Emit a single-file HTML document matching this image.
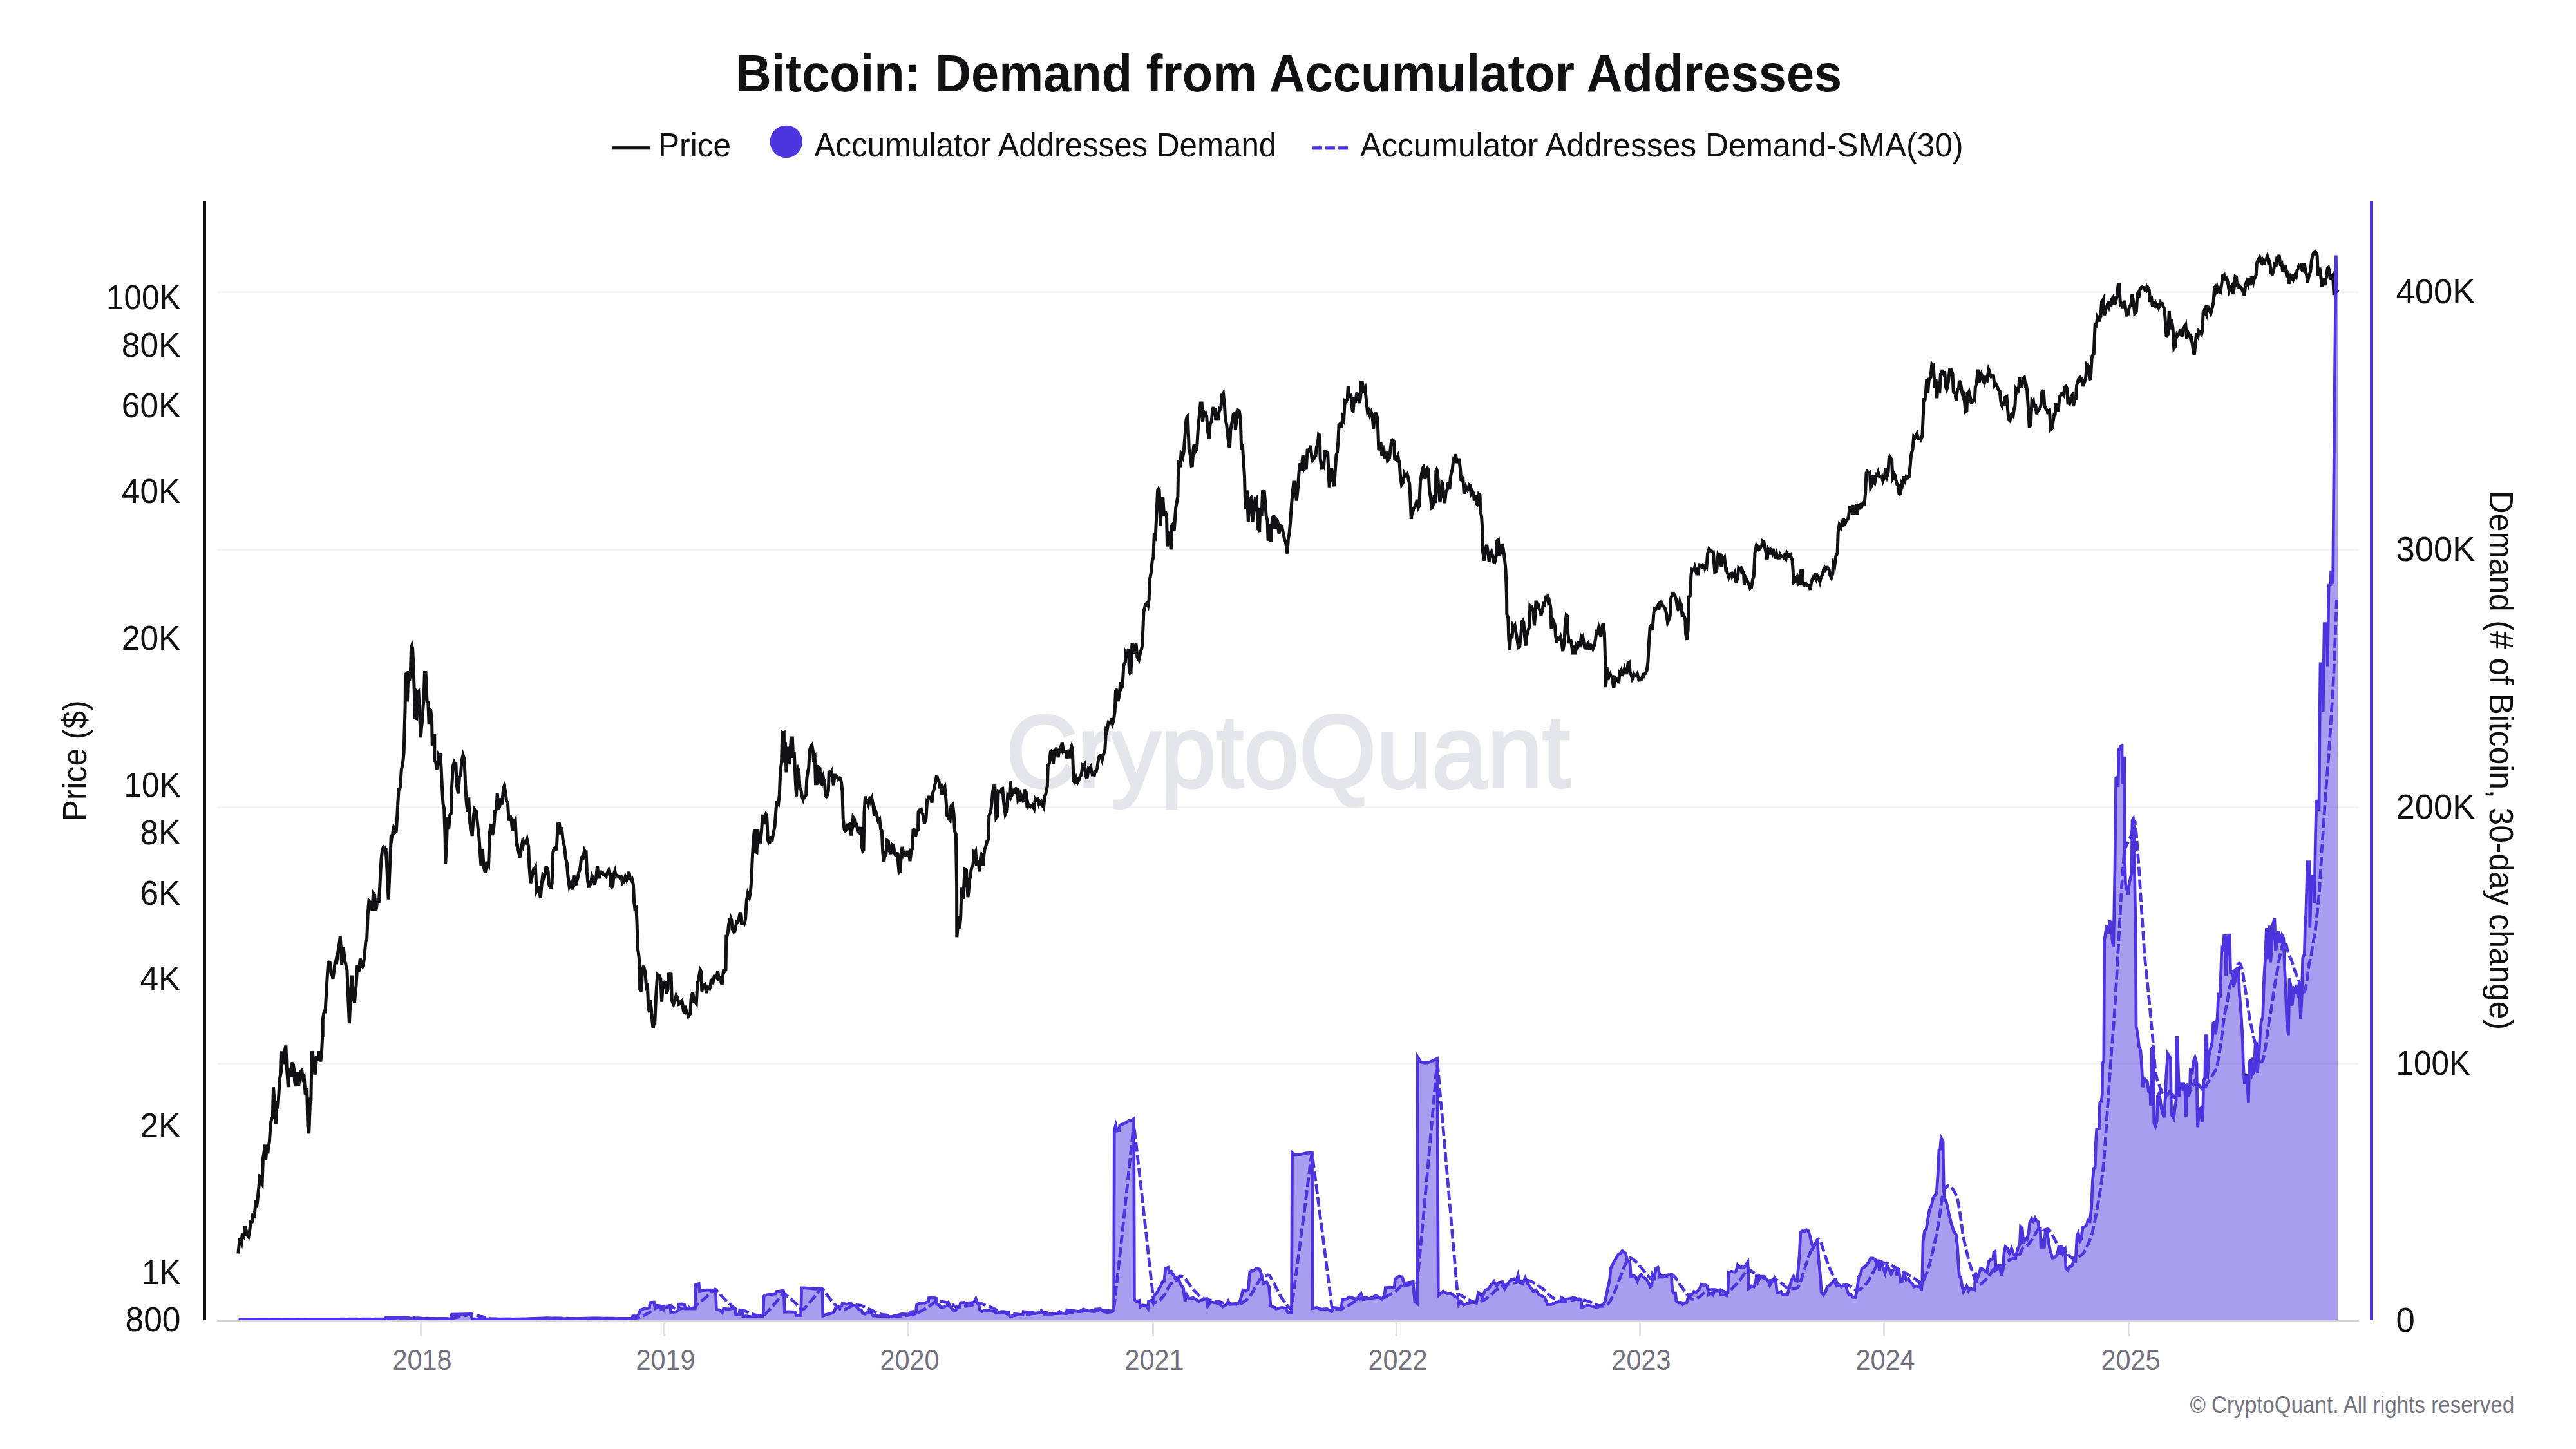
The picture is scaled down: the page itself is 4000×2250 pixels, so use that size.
<!DOCTYPE html>
<html><head><meta charset="utf-8"><title>Bitcoin: Demand from Accumulator Addresses</title>
<style>
html,body{margin:0;padding:0;background:#fff;}
body{width:4000px;height:2250px;overflow:hidden;font-family:"Liberation Sans", sans-serif;}
svg{display:block}
text{font-family:"Liberation Sans", sans-serif;}
</style></head><body>
<svg width="4000" height="2250" viewBox="0 0 4000 2250">
<rect width="4000" height="2250" fill="#ffffff"/>

<rect x="337" y="452.0" width="3326" height="3" fill="#f4f4f6"/>
<rect x="337" y="852.0" width="3326" height="3" fill="#f4f4f6"/>
<rect x="337" y="1252.0" width="3326" height="3" fill="#f4f4f6"/>
<rect x="337" y="1650.0" width="3326" height="3" fill="#f4f4f6"/>
<text id="wm" x="2000" y="1221.5" font-size="160" font-weight="400" fill="#e5e5ec" text-anchor="middle" textLength="876" lengthAdjust="spacingAndGlyphs" stroke="#e5e5ec" stroke-width="4">CryptoQuant</text>
<rect x="337" y="2050" width="3326" height="3" fill="#d5d4de"/>
<rect x="652.0" y="2052" width="3" height="23" fill="#e3e3ea"/>
<rect x="1030.0" y="2052" width="3" height="23" fill="#e3e3ea"/>
<rect x="1409.0" y="2052" width="3" height="23" fill="#e3e3ea"/>
<rect x="1789.0" y="2052" width="3" height="23" fill="#e3e3ea"/>
<rect x="2167.0" y="2052" width="3" height="23" fill="#e3e3ea"/>
<rect x="2545.0" y="2052" width="3" height="23" fill="#e3e3ea"/>
<rect x="2924.0" y="2052" width="3" height="23" fill="#e3e3ea"/>
<rect x="3305.0" y="2052" width="3" height="23" fill="#e3e3ea"/>
<path d="M369.9,1946.6 L371.1,1934.2 L372.4,1923.0 L373.6,1927.8 L374.8,1930.4 L376.1,1918.0 L377.3,1918.8 L378.6,1920.5 L380.3,1904.3 L381.4,1908.2 L382.5,1911.4 L383.5,1918.0 L384.8,1918.8 L386.0,1920.5 L387.3,1914.2 L388.5,1904.0 L389.8,1894.4 L391.0,1897.9 L392.2,1896.9 L392.7,1883.2 L394.7,1891.9 L396.0,1878.2 L397.2,1863.4 L398.4,1875.8 L399.7,1865.5 L400.9,1853.4 L402.2,1840.2 L403.4,1826.1 L404.7,1826.6 L405.9,1836.3 L407.1,1838.5 L408.4,1798.8 L409.5,1792.8 L410.5,1785.8 L411.6,1777.6 L412.6,1801.2 L414.1,1783.9 L415.8,1791.3 L417.1,1778.9 L418.3,1773.9 L419.6,1753.9 L420.8,1741.6 L422.0,1736.6 L423.3,1735.4 L424.5,1688.2 L425.8,1706.2 L427.0,1727.0 L428.3,1745.3 L429.5,1709.3 L431.5,1721.7 L433.0,1698.0 L434.5,1674.5 L436.5,1664.6 L437.5,1632.3 L438.7,1643.4 L439.9,1652.2 L441.9,1632.3 L443.9,1623.6 L445.2,1657.1 L446.3,1671.3 L447.4,1688.2 L449.4,1659.6 L450.9,1666.5 L452.4,1672.0 L453.1,1649.7 L454.3,1652.4 L455.6,1653.4 L456.7,1663.1 L457.7,1679.6 L458.8,1687.0 L460.1,1677.0 L461.3,1664.6 L462.5,1677.8 L463.8,1685.7 L465.0,1675.0 L466.3,1667.1 L467.5,1663.0 L468.8,1662.1 L470.5,1674.5 L472.2,1672.0 L474.2,1699.4 L475.5,1696.1 L476.7,1694.4 L478.0,1749.1 L479.7,1760.2 L481.7,1706.8 L482.9,1706.8 L484.2,1632.3 L486.1,1639.8 L487.6,1654.4 L489.1,1669.6 L490.4,1656.0 L491.6,1639.8 L492.9,1644.0 L494.1,1647.2 L495.3,1632.3 L496.6,1639.4 L497.8,1648.4 L499.6,1632.3 L501.1,1600.0 L501.2,1610.0 L501.3,1582.9 L502.6,1574.2 L503.9,1570.3 L505.1,1570.5 L507.1,1535.7 L508.3,1514.7 L509.6,1496.0 L510.8,1496.8 L512.0,1492.2 L514.0,1510.9 L515.5,1513.4 L517.0,1519.6 L518.5,1508.3 L520.0,1496.0 L521.1,1495.2 L522.2,1489.4 L523.2,1491.0 L524.5,1481.2 L525.7,1471.1 L527.0,1465.3 L528.2,1453.7 L529.4,1471.7 L530.7,1498.4 L531.9,1484.1 L533.2,1471.1 L534.4,1482.1 L535.7,1493.5 L536.7,1495.8 L537.8,1502.9 L538.9,1505.9 L540.6,1548.1 L542.4,1589.1 L544.3,1548.1 L546.3,1514.6 L547.6,1532.5 L548.8,1550.6 L550.6,1556.8 L551.8,1540.6 L553.0,1530.7 L554.8,1498.4 L556.0,1505.2 L557.3,1508.4 L559.3,1488.5 L560.5,1494.1 L561.7,1498.9 L563.0,1500.9 L564.2,1497.9 L565.5,1488.5 L566.7,1475.6 L568.0,1461.2 L569.7,1458.7 L571.2,1418.9 L572.9,1399.1 L574.2,1400.6 L575.4,1401.6 L576.6,1404.9 L577.9,1414.0 L579.6,1386.6 L581.6,1389.1 L583.6,1414.0 L584.8,1407.9 L586.1,1399.1 L587.2,1399.0 L588.3,1401.6 L589.8,1376.7 L590.9,1354.6 L592.0,1334.5 L593.3,1323.0 L594.5,1317.1 L595.7,1315.0 L596.8,1315.9 L597.9,1319.9 L599.0,1317.1 L600.2,1335.0 L601.5,1361.8 L603.2,1396.6 L605.2,1349.4 L607.2,1300.9 L608.9,1303.4 L610.2,1290.9 L611.4,1284.8 L612.7,1287.4 L613.9,1292.1 L615.2,1291.0 L616.9,1264.9 L617.6,1250.0 L617.6,1250.1 L619.1,1226.0 L620.4,1225.4 L621.6,1222.2 L623.4,1193.7 L625.1,1188.7 L627.1,1168.8 L629.1,1099.3 L629.6,1047.1 L631.6,1045.8 L632.5,1089.3 L634.0,1042.1 L635.8,1057.0 L637.5,1042.1 L638.5,1006.1 L639.6,1002.5 L640.7,1007.3 L642.0,1037.1 L643.2,1070.1 L644.5,1114.2 L646.5,1115.4 L647.5,1073.2 L648.7,1074.0 L649.9,1073.2 L651.4,1104.2 L653.2,1145.2 L654.4,1130.6 L655.7,1119.1 L656.9,1099.3 L658.1,1084.3 L659.4,1044.6 L661.1,1044.6 L663.1,1089.3 L664.8,1090.6 L666.1,1124.1 L667.3,1101.7 L668.8,1103.0 L670.6,1119.1 L671.3,1158.9 L673.0,1141.5 L674.8,1141.5 L674.8,1181.2 L676.8,1183.7 L678.0,1194.9 L679.8,1187.5 L681.2,1171.3 L682.4,1172.8 L683.5,1170.1 L685.0,1191.2 L686.2,1216.0 L688.0,1248.3 L689.7,1255.8 L691.2,1303.0 L691.7,1341.5 L693.7,1303.0 L694.7,1268.2 L696.6,1288.1 L698.6,1265.7 L700.4,1263.2 L701.6,1221.0 L703.6,1188.7 L705.3,1183.7 L706.6,1186.2 L707.8,1183.7 L709.1,1218.5 L710.3,1225.7 L711.6,1232.2 L713.5,1206.1 L715.3,1203.6 L717.0,1181.2 L719.0,1172.5 L721.0,1178.8 L722.7,1218.5 L724.0,1243.4 L726.0,1260.7 L727.7,1238.4 L729.7,1278.1 L731.4,1285.6 L733.2,1298.0 L735.2,1268.2 L736.9,1257.0 L738.1,1258.8 L739.4,1259.5 L741.4,1278.1 L742.6,1290.3 L743.9,1300.5 L745.8,1327.8 L746.9,1344.0 L748.1,1335.1 L749.4,1319.1 L751.1,1345.2 L752.4,1351.5 L753.6,1355.2 L754.8,1347.6 L756.1,1337.8 L757.3,1342.1 L758.6,1344.0 L760.3,1294.3 L761.6,1283.4 L762.8,1279.4 L764.8,1296.8 L766.0,1290.9 L767.3,1279.4 L768.5,1259.5 L769.8,1259.1 L771.0,1254.5 L772.2,1232.2 L774.2,1257.0 L776.0,1252.0 L777.7,1239.6 L779.2,1249.6 L780.4,1238.3 L781.7,1224.7 L782.9,1221.0 L784.2,1226.0 L785.4,1233.9 L786.6,1244.6 L788.4,1245.8 L790.1,1274.4 L792.1,1265.7 L794.1,1274.4 L795.8,1290.6 L797.6,1274.4 L798.8,1275.6 L800.1,1273.2 L802.0,1311.7 L803.3,1311.4 L804.5,1319.1 L805.8,1324.9 L807.0,1331.6 L808.3,1326.3 L809.5,1316.6 L810.7,1310.4 L812.0,1313.6 L813.2,1306.7 L814.5,1309.2 L815.7,1309.2 L817.0,1305.8 L818.2,1303.0 L819.4,1309.3 L820.7,1314.2 L821.9,1346.5 L823.9,1371.3 L825.7,1363.9 L827.4,1353.9 L828.9,1348.9 L830.1,1349.1 L831.4,1346.5 L833.1,1383.7 L834.2,1381.5 L835.3,1381.3 L836.3,1376.3 L837.8,1384.1 L839.3,1394.9 L841.3,1371.3 L843.0,1357.6 L844.3,1358.6 L845.5,1361.4 L846.8,1355.6 L848.0,1345.2 L849.1,1348.2 L850.2,1349.1 L851.2,1353.9 L852.2,1371.3 L853.5,1376.5 L854.7,1377.5 L856.0,1377.6 L857.2,1371.3 L858.7,1324.1 L859.9,1319.4 L861.2,1316.6 L862.7,1315.5 L864.2,1320.4 L866.1,1279.4 L867.4,1279.1 L868.6,1279.4 L870.4,1295.5 L872.1,1284.3 L874.1,1304.2 L875.3,1309.5 L876.6,1315.4 L878.6,1334.0 L880.3,1340.2 L882.0,1361.4 L884.0,1376.3 L885.3,1373.1 L886.5,1371.3 L888.5,1381.2 L889.8,1373.2 L891.0,1358.9 L892.7,1371.3 L894.0,1368.4 L895.2,1370.1 L897.0,1363.9 L898.9,1353.9 L900.2,1351.7 L901.4,1344.0 L902.7,1331.6 L903.9,1330.6 L905.2,1335.3 L906.4,1326.1 L907.6,1320.4 L908.9,1323.0 L910.1,1322.9 L911.4,1353.9 L912.6,1367.6 L913.9,1376.3 L915.3,1376.3 L916.8,1372.5 L918.1,1367.1 L919.3,1360.1 L921.3,1363.9 L923.3,1373.8 L924.5,1367.9 L925.8,1361.4 L927.5,1345.2 L928.8,1354.9 L930.0,1363.9 L931.2,1360.1 L932.5,1353.9 L933.6,1353.9 L934.6,1355.4 L935.7,1355.2 L937.2,1358.3 L938.7,1358.9 L939.9,1360.1 L941.2,1361.4 L943.2,1355.2 L945.2,1351.4 L946.3,1355.6 L947.4,1356.4 L948.6,1376.3 L950.1,1377.5 L951.6,1376.3 L953.1,1357.6 L954.8,1352.7 L956.1,1360.2 L957.3,1358.9 L958.6,1360.2 L959.8,1360.1 L961.1,1360.4 L962.3,1362.6 L963.5,1361.2 L964.8,1361.4 L966.5,1371.3 L967.8,1370.0 L969.0,1368.8 L971.0,1361.4 L973.0,1366.3 L974.7,1361.4 L976.7,1353.9 L978.4,1363.9 L979.9,1366.5 L981.4,1365.1 L983.4,1373.8 L984.7,1401.1 L985.9,1411.1 L987.9,1409.8 L988.9,1428.4 L990.4,1473.2 L992.1,1485.6 L993.4,1500.5 L993.6,1535.8 L994.8,1536.9 L996.1,1539.5 L997.3,1508.4 L999.3,1499.8 L1000.6,1504.9 L1001.8,1508.4 L1003.5,1530.8 L1005.3,1527.1 L1006.8,1565.6 L1008.5,1571.8 L1009.8,1553.2 L1011.7,1570.6 L1013.0,1587.6 L1014.2,1596.6 L1015.5,1587.9 L1016.7,1590.4 L1018.4,1550.7 L1019.7,1529.6 L1020.9,1513.4 L1022.2,1514.6 L1023.4,1514.7 L1024.7,1518.0 L1025.9,1519.6 L1027.6,1555.7 L1029.6,1523.4 L1031.6,1528.3 L1033.4,1523.4 L1035.1,1543.2 L1037.1,1535.8 L1038.3,1510.9 L1040.3,1515.9 L1042.0,1510.9 L1043.3,1553.2 L1044.5,1556.8 L1045.8,1559.4 L1047.0,1555.3 L1048.3,1553.2 L1050.0,1545.7 L1052.0,1549.4 L1054.0,1559.4 L1055.2,1559.0 L1056.5,1555.7 L1057.7,1555.7 L1058.9,1554.4 L1060.2,1561.3 L1061.4,1570.6 L1062.7,1571.6 L1063.9,1561.9 L1065.2,1567.6 L1066.4,1571.8 L1067.6,1573.7 L1068.9,1578.0 L1070.4,1575.9 L1071.9,1574.3 L1073.1,1551.9 L1074.3,1545.8 L1075.6,1540.7 L1076.8,1548.7 L1078.1,1556.9 L1079.2,1551.3 L1080.2,1556.7 L1081.3,1558.1 L1083.0,1525.8 L1084.3,1523.1 L1085.5,1515.9 L1087.3,1506.0 L1088.8,1508.4 L1089.8,1539.5 L1091.0,1532.0 L1092.2,1529.6 L1093.5,1528.8 L1094.7,1528.3 L1096.0,1537.3 L1097.2,1542.0 L1099.2,1530.8 L1100.4,1535.2 L1101.7,1535.8 L1102.9,1532.2 L1104.2,1522.1 L1105.4,1521.5 L1106.6,1528.3 L1107.9,1521.3 L1109.1,1515.9 L1110.6,1515.8 L1112.1,1517.1 L1113.4,1514.2 L1114.6,1508.4 L1116.6,1523.4 L1118.6,1515.9 L1119.8,1525.1 L1121.1,1529.6 L1122.8,1512.2 L1124.0,1504.4 L1125.3,1508.4 L1127.0,1506.0 L1127.8,1453.8 L1129.0,1453.7 L1130.2,1448.8 L1131.5,1436.3 L1132.7,1430.2 L1133.8,1431.3 L1134.9,1426.1 L1136.0,1428.9 L1137.0,1442.6 L1138.1,1443.3 L1139.2,1445.9 L1140.3,1443.2 L1141.4,1443.9 L1142.7,1438.1 L1143.9,1431.4 L1145.4,1431.9 L1146.9,1428.9 L1148.1,1423.0 L1149.4,1416.5 L1151.4,1433.9 L1152.9,1433.7 L1154.3,1433.9 L1155.4,1434.8 L1156.5,1431.3 L1157.6,1426.5 L1159.3,1399.1 L1161.3,1386.7 L1162.5,1389.2 L1163.8,1392.9 L1165.3,1385.9 L1166.8,1366.8 L1168.3,1332.0 L1170.0,1302.2 L1171.7,1287.3 L1173.2,1322.1 L1175.0,1323.4 L1176.7,1287.3 L1178.7,1307.2 L1180.7,1307.2 L1182.4,1292.3 L1184.2,1265.0 L1186.1,1279.9 L1188.1,1267.5 L1189.4,1264.3 L1190.6,1266.2 L1192.4,1304.7 L1193.4,1307.1 L1194.5,1305.0 L1195.6,1306.0 L1197.3,1298.5 L1198.6,1307.2 L1200.6,1294.8 L1201.8,1289.5 L1203.0,1283.6 L1204.8,1260.0 L1206.1,1244.1 L1207.3,1248.1 L1208.6,1249.1 L1210.3,1234.2 L1211.8,1196.9 L1213.5,1184.5 L1214.8,1137.3 L1216.0,1137.8 L1217.3,1137.3 L1217.8,1184.5 L1219.3,1152.2 L1221.0,1199.4 L1222.7,1162.1 L1224.7,1162.1 L1226.0,1187.0 L1227.2,1167.9 L1228.4,1146.0 L1230.4,1146.0 L1231.7,1177.0 L1233.2,1167.1 L1235.2,1211.8 L1236.6,1236.6 L1237.9,1196.9 L1239.1,1193.5 L1240.4,1196.9 L1242.1,1224.2 L1243.4,1224.6 L1244.6,1231.7 L1245.8,1238.0 L1247.1,1241.6 L1248.3,1237.6 L1249.6,1237.9 L1251.6,1234.2 L1252.8,1209.3 L1254.3,1198.4 L1255.8,1191.9 L1257.0,1165.8 L1259.0,1159.6 L1260.7,1157.1 L1262.5,1167.1 L1263.2,1177.0 L1265.2,1174.5 L1266.5,1216.8 L1268.4,1216.8 L1269.9,1209.3 L1271.4,1191.9 L1273.2,1193.2 L1273.9,1214.3 L1275.7,1216.8 L1276.9,1208.1 L1278.0,1205.3 L1279.0,1211.7 L1280.1,1209.3 L1281.9,1235.4 L1283.1,1237.0 L1284.3,1235.4 L1286.3,1228.0 L1287.3,1196.9 L1289.3,1201.9 L1291.3,1198.1 L1292.5,1206.8 L1294.3,1219.3 L1296.3,1201.9 L1297.5,1207.6 L1298.8,1206.8 L1300.2,1206.6 L1301.7,1210.6 L1303.0,1209.3 L1304.2,1208.1 L1305.5,1209.9 L1306.7,1216.8 L1308.0,1229.2 L1309.2,1271.4 L1311.2,1288.8 L1312.7,1290.5 L1314.2,1288.8 L1316.1,1278.9 L1317.4,1283.0 L1318.6,1280.1 L1320.4,1278.9 L1321.6,1297.5 L1323.6,1283.9 L1324.8,1268.9 L1326.6,1271.4 L1327.8,1283.9 L1329.1,1280.0 L1330.3,1280.1 L1332.0,1292.5 L1334.0,1283.9 L1336.0,1296.3 L1337.0,1283.9 L1338.5,1316.1 L1339.8,1321.4 L1341.0,1319.9 L1342.0,1261.5 L1343.5,1236.6 L1344.7,1241.9 L1346.0,1242.9 L1347.2,1245.6 L1348.4,1249.1 L1350.2,1241.6 L1351.4,1236.9 L1352.7,1243.9 L1353.9,1240.4 L1355.9,1250.3 L1357.4,1266.5 L1359.4,1259.0 L1361.4,1265.2 L1363.4,1273.9 L1364.6,1272.5 L1365.8,1271.4 L1367.6,1287.6 L1369.3,1290.1 L1370.8,1323.6 L1372.5,1338.5 L1374.3,1324.8 L1375.8,1326.1 L1377.5,1305.0 L1379.3,1306.2 L1380.7,1321.1 L1382.0,1322.3 L1383.2,1326.1 L1385.0,1312.4 L1386.2,1313.9 L1387.5,1313.7 L1389.2,1324.8 L1390.4,1327.6 L1391.7,1328.6 L1393.7,1323.6 L1394.9,1342.4 L1396.1,1354.7 L1398.1,1353.4 L1399.1,1326.1 L1401.1,1314.9 L1403.1,1327.3 L1404.3,1325.1 L1405.6,1327.3 L1406.7,1327.8 L1407.9,1326.5 L1409.1,1321.1 L1410.3,1325.6 L1411.6,1323.6 L1413.0,1337.3 L1414.8,1322.4 L1416.5,1318.6 L1418.0,1288.8 L1419.3,1288.4 L1420.5,1288.8 L1421.5,1298.8 L1423.5,1291.3 L1425.5,1288.8 L1426.0,1261.5 L1427.2,1258.0 L1428.4,1257.8 L1430.4,1256.5 L1431.7,1262.5 L1432.9,1264.0 L1434.2,1271.7 L1435.4,1278.9 L1436.6,1275.4 L1437.9,1271.4 L1439.6,1242.9 L1440.9,1243.5 L1442.1,1237.9 L1443.4,1237.9 L1444.6,1239.1 L1445.8,1237.8 L1447.1,1246.6 L1448.3,1231.7 L1450.3,1225.5 L1451.6,1219.0 L1452.8,1214.3 L1454.0,1206.5 L1455.3,1206.8 L1456.5,1211.1 L1457.8,1211.8 L1459.5,1224.2 L1461.5,1216.8 L1462.7,1234.2 L1464.0,1229.9 L1465.2,1224.2 L1467.0,1221.7 L1468.7,1239.1 L1470.7,1266.5 L1471.9,1267.6 L1473.2,1271.4 L1475.2,1273.9 L1476.9,1251.6 L1478.1,1250.3 L1479.4,1249.1 L1481.1,1264.0 L1482.6,1291.3 L1484.3,1295.0 L1485.6,1373.3 L1485.8,1455.3 L1487.0,1441.0 L1488.1,1423.0 L1490.1,1442.9 L1491.8,1423.0 L1493.0,1378.3 L1494.3,1387.1 L1495.5,1395.7 L1496.8,1375.6 L1498.0,1349.7 L1499.3,1350.2 L1500.5,1350.9 L1501.7,1374.3 L1503.0,1393.2 L1504.2,1382.8 L1505.5,1365.8 L1506.7,1361.9 L1508.0,1350.9 L1509.4,1345.7 L1510.9,1343.5 L1512.4,1323.6 L1513.7,1324.9 L1514.9,1322.4 L1516.6,1344.7 L1517.9,1337.5 L1519.1,1338.5 L1520.9,1353.4 L1522.9,1329.8 L1524.1,1326.2 L1525.3,1327.3 L1526.6,1344.7 L1527.8,1327.4 L1529.1,1318.6 L1530.8,1313.7 L1532.8,1306.2 L1534.8,1303.7 L1535.8,1266.5 L1537.8,1261.5 L1538.9,1256.4 L1540.0,1246.6 L1541.4,1231.0 L1542.9,1220.7 L1544.8,1220.7 L1546.8,1270.4 L1548.6,1268.0 L1550.3,1228.2 L1551.4,1228.6 L1552.5,1228.6 L1553.5,1229.4 L1554.6,1227.7 L1555.7,1224.8 L1556.8,1224.5 L1558.5,1245.6 L1559.8,1255.4 L1561.0,1264.2 L1562.7,1260.5 L1564.7,1235.7 L1566.2,1238.4 L1567.7,1233.2 L1568.9,1213.3 L1570.9,1235.7 L1572.0,1233.3 L1573.1,1231.9 L1574.2,1228.2 L1575.3,1229.2 L1576.5,1225.3 L1577.6,1224.5 L1579.6,1225.7 L1580.9,1243.1 L1582.1,1241.6 L1583.4,1245.6 L1585.1,1233.2 L1586.3,1235.7 L1587.6,1240.6 L1589.6,1245.6 L1590.8,1225.7 L1592.0,1230.6 L1593.3,1230.7 L1594.5,1248.1 L1595.8,1246.3 L1597.0,1251.8 L1598.3,1249.9 L1599.5,1250.6 L1600.7,1252.8 L1602.0,1252.3 L1603.2,1250.6 L1604.5,1253.1 L1605.7,1255.5 L1607.5,1240.6 L1608.8,1242.4 L1610.1,1241.0 L1611.4,1240.6 L1613.2,1248.1 L1614.4,1244.9 L1615.7,1246.8 L1616.9,1245.3 L1618.1,1250.6 L1619.4,1250.4 L1620.6,1253.0 L1622.4,1235.7 L1623.6,1234.0 L1624.8,1228.2 L1626.3,1220.7 L1627.3,1188.4 L1629.3,1186.0 L1631.3,1167.3 L1632.5,1166.1 L1633.8,1167.3 L1635.5,1186.0 L1637.3,1166.1 L1638.3,1163.3 L1639.4,1162.7 L1640.5,1163.6 L1641.7,1166.4 L1643.0,1176.0 L1644.2,1169.6 L1645.5,1163.6 L1646.7,1161.0 L1648.0,1163.6 L1649.2,1152.4 L1651.2,1166.1 L1652.7,1167.5 L1654.2,1167.3 L1655.4,1167.1 L1656.6,1177.3 L1657.9,1173.6 L1659.1,1168.6 L1660.4,1171.5 L1661.6,1177.3 L1662.9,1163.6 L1664.1,1159.3 L1665.3,1163.6 L1667.1,1212.0 L1668.2,1214.1 L1669.2,1212.3 L1670.3,1213.3 L1671.4,1208.8 L1672.5,1212.2 L1673.5,1214.5 L1674.8,1212.1 L1676.0,1208.3 L1677.5,1204.8 L1679.0,1203.4 L1681.0,1188.4 L1682.5,1189.5 L1684.0,1187.2 L1686.0,1203.4 L1687.7,1209.6 L1688.9,1203.1 L1690.2,1193.4 L1691.3,1194.1 L1692.3,1192.5 L1693.4,1190.9 L1695.2,1198.4 L1696.2,1202.6 L1697.3,1202.3 L1698.3,1203.1 L1699.4,1203.4 L1700.5,1196.3 L1701.5,1200.4 L1702.6,1195.9 L1703.9,1191.9 L1705.1,1182.2 L1706.8,1174.8 L1708.1,1173.5 L1709.3,1173.5 L1711.3,1179.8 L1712.5,1174.4 L1713.8,1171.1 L1715.8,1163.6 L1717.5,1133.8 L1718.8,1135.6 L1720.0,1128.8 L1721.2,1121.2 L1722.5,1121.4 L1723.7,1123.6 L1725.0,1123.9 L1726.7,1115.2 L1728.0,1122.4 L1729.2,1118.9 L1731.2,1104.0 L1732.4,1072.9 L1733.7,1071.5 L1734.9,1074.2 L1736.1,1089.1 L1738.1,1079.1 L1739.9,1059.3 L1741.0,1062.8 L1742.0,1067.5 L1743.1,1065.5 L1744.8,1033.2 L1746.1,1030.4 L1747.3,1028.2 L1748.1,1014.5 L1749.3,1017.0 L1750.6,1017.0 L1752.3,1007.1 L1753.5,1041.9 L1754.8,1045.1 L1756.0,1044.3 L1758.0,998.4 L1759.3,1004.5 L1760.5,1014.5 L1762.2,1007.1 L1764.0,999.6 L1766.0,1020.7 L1767.2,1022.4 L1768.4,1024.5 L1769.7,1018.9 L1770.9,1012.0 L1772.4,1008.3 L1773.9,1000.9 L1775.9,949.9 L1777.1,944.9 L1778.4,940.0 L1779.7,937.9 L1781.0,936.6 L1782.7,940.3 L1784.2,930.4 L1785.2,900.6 L1787.2,890.6 L1789.2,870.7 L1790.9,865.8 L1792.2,832.2 L1794.2,834.7 L1795.9,798.7 L1797.6,761.4 L1798.9,759.2 L1800.1,761.4 L1802.1,816.1 L1804.1,773.9 L1805.8,773.9 L1807.6,801.2 L1809.6,793.7 L1811.6,803.7 L1812.5,848.4 L1814.5,828.5 L1816.5,832.2 L1818.3,853.4 L1819.5,816.1 L1821.5,813.6 L1823.2,824.8 L1824.5,806.0 L1825.7,788.8 L1827.5,778.8 L1828.9,771.4 L1829.9,714.2 L1831.2,721.8 L1832.4,725.4 L1833.9,705.5 L1835.2,708.2 L1836.4,710.5 L1838.1,701.8 L1839.9,678.2 L1841.9,652.1 L1843.1,647.1 L1844.3,645.9 L1846.3,696.8 L1847.6,702.4 L1848.8,711.7 L1850.1,723.2 L1851.3,722.9 L1853.0,698.1 L1854.3,689.4 L1856.3,700.6 L1857.5,698.7 L1858.8,691.9 L1860.5,664.5 L1862.5,643.4 L1864.2,626.0 L1866.2,626.0 L1867.5,654.6 L1869.2,639.7 L1870.4,641.7 L1871.7,640.9 L1873.7,647.1 L1875.4,669.5 L1877.4,680.7 L1879.1,658.3 L1881.1,654.6 L1882.9,637.2 L1884.1,632.1 L1885.3,638.4 L1886.6,633.5 L1887.8,652.1 L1889.6,639.7 L1891.6,652.1 L1893.5,634.7 L1894.8,635.5 L1896.0,633.5 L1897.0,613.6 L1898.3,613.4 L1899.5,611.1 L1901.5,629.8 L1902.7,650.9 L1904.7,659.6 L1906.5,677.0 L1908.0,690.0 L1909.4,695.6 L1910.9,667.0 L1912.7,657.1 L1913.9,651.2 L1915.2,643.4 L1916.9,642.2 L1918.4,667.0 L1920.1,652.1 L1921.4,644.5 L1922.6,637.2 L1924.3,638.4 L1926.3,650.9 L1927.6,698.1 L1929.3,689.4 L1930.8,714.2 L1932.5,739.1 L1933.8,790.0 L1935.0,776.9 L1936.3,761.4 L1938.3,809.9 L1939.5,787.6 L1940.7,773.9 L1942.5,772.6 L1943.7,793.5 L1945.0,809.9 L1946.2,800.0 L1947.5,788.8 L1949.2,773.9 L1951.2,772.6 L1953.2,821.1 L1954.4,822.0 L1955.7,826.0 L1956.6,788.8 L1957.9,797.9 L1959.1,801.2 L1960.6,761.4 L1961.9,765.4 L1963.1,761.4 L1964.8,781.3 L1966.1,801.2 L1968.1,808.6 L1969.1,839.7 L1971.1,813.6 L1972.3,824.2 L1973.5,840.9 L1975.5,806.1 L1976.8,802.8 L1978.0,802.4 L1979.8,821.1 L1981.5,806.1 L1983.5,808.6 L1984.7,819.2 L1986.0,828.5 L1988.0,816.1 L1989.2,817.1 L1990.4,817.3 L1992.2,826.0 L1993.4,831.4 L1994.7,838.4 L1995.9,840.0 L1997.1,845.9 L1998.9,859.6 L2000.4,836.0 L2001.9,829.4 L2003.4,813.6 L2005.3,786.3 L2007.1,765.2 L2008.8,749.0 L2010.8,749.0 L2012.0,765.6 L2013.3,777.6 L2015.3,758.9 L2017.0,734.1 L2018.8,719.2 L2020.7,731.6 L2022.0,716.6 L2023.2,706.8 L2025.2,727.9 L2026.7,725.6 L2028.2,729.1 L2030.2,696.8 L2031.4,701.2 L2032.7,698.1 L2033.9,697.1 L2035.2,691.9 L2036.9,710.5 L2038.1,714.9 L2039.4,713.1 L2040.6,711.7 L2041.9,707.3 L2043.1,706.8 L2044.3,694.3 L2046.1,689.4 L2047.6,674.5 L2049.3,675.7 L2050.1,711.7 L2051.3,721.0 L2052.5,729.1 L2054.0,721.9 L2055.5,724.2 L2057.5,699.3 L2059.3,704.3 L2060.5,702.6 L2061.7,704.3 L2063.0,734.1 L2064.2,756.5 L2066.0,729.1 L2068.0,729.1 L2069.2,744.0 L2070.4,749.5 L2071.7,755.2 L2073.4,729.1 L2074.9,706.8 L2076.6,701.8 L2077.9,684.4 L2079.1,659.6 L2080.9,658.3 L2082.9,664.5 L2084.8,648.4 L2086.6,652.1 L2088.3,622.3 L2090.3,623.5 L2092.3,618.6 L2093.3,599.9 L2095.3,614.8 L2096.5,616.0 L2097.8,614.8 L2098.9,624.4 L2100.0,637.2 L2101.1,638.3 L2102.9,617.2 L2104.8,624.7 L2106.8,609.8 L2108.1,613.2 L2109.3,617.2 L2111.1,625.9 L2112.8,614.7 L2113.5,593.6 L2115.3,593.6 L2117.3,607.3 L2118.5,606.4 L2119.8,603.5 L2121.7,623.4 L2123.5,639.6 L2125.2,637.1 L2127.2,644.5 L2129.2,639.6 L2130.9,644.5 L2132.7,665.7 L2134.2,649.5 L2135.9,640.8 L2137.1,644.7 L2138.4,647.0 L2139.6,664.4 L2140.9,699.2 L2141.9,696.5 L2143.0,691.4 L2144.1,686.8 L2145.8,707.9 L2147.1,699.1 L2148.3,691.7 L2150.1,711.6 L2151.3,708.4 L2152.5,701.7 L2154.5,715.3 L2156.0,713.6 L2157.5,711.6 L2159.5,694.2 L2160.7,684.3 L2162.0,682.9 L2163.2,683.7 L2164.5,685.5 L2165.7,712.9 L2167.0,713.5 L2168.2,714.1 L2169.4,710.8 L2170.7,707.9 L2171.9,713.8 L2173.2,719.1 L2174.4,738.9 L2176.4,752.6 L2177.6,750.7 L2178.9,748.9 L2180.6,735.2 L2181.9,737.5 L2183.1,738.9 L2184.2,739.1 L2185.3,737.0 L2186.3,740.2 L2187.6,746.7 L2188.8,751.4 L2189.8,771.2 L2191.3,806.0 L2193.0,793.6 L2194.3,793.4 L2195.5,788.6 L2196.8,787.7 L2198.0,784.9 L2199.3,780.1 L2200.5,776.2 L2202.2,788.6 L2203.7,786.1 L2205.5,747.6 L2206.7,741.2 L2208.0,732.7 L2209.2,726.9 L2210.4,725.3 L2211.7,730.4 L2212.9,743.9 L2214.2,736.6 L2215.4,729.0 L2216.6,727.0 L2217.9,729.0 L2219.6,761.3 L2221.6,773.7 L2222.9,788.6 L2224.1,787.8 L2225.3,783.7 L2227.1,768.8 L2229.1,781.2 L2229.8,731.5 L2230.9,729.1 L2232.0,731.5 L2234.0,758.8 L2236.0,779.9 L2237.8,766.3 L2239.0,748.9 L2240.2,750.1 L2241.5,768.8 L2243.5,781.2 L2245.2,763.8 L2247.0,761.3 L2248.9,748.9 L2250.9,760.1 L2252.2,741.9 L2253.4,735.2 L2255.2,729.0 L2256.4,718.0 L2257.6,711.6 L2258.9,712.0 L2260.1,705.4 L2261.4,711.4 L2262.6,719.1 L2263.7,714.4 L2264.8,714.1 L2265.8,714.1 L2267.6,729.0 L2268.8,745.2 L2270.3,745.7 L2271.8,743.9 L2273.3,766.3 L2274.8,762.4 L2276.3,756.3 L2277.5,759.2 L2278.8,761.3 L2280.0,760.2 L2281.2,752.6 L2283.2,753.9 L2284.2,766.3 L2286.2,762.5 L2288.2,766.3 L2289.2,777.5 L2291.2,768.8 L2293.2,782.4 L2294.4,783.4 L2295.7,781.2 L2296.6,767.5 L2298.1,768.8 L2298.6,792.4 L2300.6,802.3 L2301.6,818.4 L2302.4,855.7 L2303.6,863.1 L2304.8,870.6 L2306.6,853.2 L2308.6,845.8 L2310.6,858.2 L2312.3,871.9 L2313.5,860.7 L2314.8,860.1 L2316.0,857.0 L2318.0,864.4 L2319.5,872.4 L2321.0,873.1 L2323.0,864.4 L2324.7,839.6 L2326.5,838.3 L2328.0,863.2 L2329.2,860.3 L2330.4,853.2 L2332.2,844.5 L2333.9,850.7 L2335.9,863.2 L2337.9,883.0 L2338.9,905.4 L2339.6,930.0 L2339.8,954.0 L2341.8,959.0 L2342.8,991.3 L2344.3,1008.7 L2346.0,983.9 L2347.8,991.3 L2349.3,971.4 L2350.7,973.7 L2352.2,971.4 L2354.2,983.9 L2356.0,993.8 L2357.7,1005.0 L2359.7,1003.7 L2361.7,986.3 L2363.4,965.2 L2364.7,963.5 L2365.9,966.5 L2367.6,988.8 L2369.1,1002.5 L2370.9,986.3 L2372.1,981.7 L2373.4,977.6 L2374.6,973.9 L2375.8,941.6 L2377.1,943.8 L2378.3,942.9 L2379.6,945.3 L2380.8,949.1 L2382.5,971.4 L2384.0,951.6 L2385.0,932.9 L2386.1,936.9 L2387.2,937.5 L2388.3,937.9 L2389.5,944.2 L2390.7,946.6 L2391.8,947.8 L2392.9,955.5 L2394.0,951.6 L2395.2,947.4 L2396.5,937.9 L2398.2,939.1 L2399.4,932.4 L2400.7,926.7 L2401.9,926.3 L2403.2,925.5 L2404.4,934.9 L2405.7,932.9 L2406.9,938.4 L2408.1,945.3 L2408.9,976.4 L2410.6,968.9 L2412.4,965.2 L2414.3,970.2 L2415.6,987.6 L2417.3,997.5 L2419.3,991.3 L2421.3,992.5 L2423.0,988.8 L2424.8,996.3 L2426.8,1011.2 L2428.8,998.8 L2430.5,968.9 L2432.2,955.3 L2433.7,956.5 L2434.7,983.9 L2436.7,998.8 L2438.7,992.5 L2440.4,1001.2 L2442.2,1016.1 L2444.2,1001.2 L2446.1,1016.1 L2447.9,1002.5 L2449.6,1005.0 L2451.6,996.3 L2453.6,1005.0 L2455.3,988.8 L2456.6,990.7 L2457.8,988.8 L2459.8,1001.2 L2460.9,1005.9 L2462.0,1006.2 L2464.0,1001.2 L2466.0,998.8 L2467.8,1008.7 L2469.5,1001.2 L2471.5,1002.5 L2473.5,1007.5 L2474.7,1004.4 L2476.0,1001.2 L2477.7,991.3 L2478.9,981.4 L2480.9,982.6 L2482.7,973.9 L2484.4,978.9 L2485.9,988.8 L2487.6,973.9 L2489.4,967.7 L2491.4,983.9 L2492.6,1023.6 L2493.4,1067.1 L2495.1,1036.0 L2496.8,1055.9 L2498.8,1048.4 L2500.1,1046.5 L2501.3,1049.7 L2503.3,1050.9 L2504.5,1060.0 L2505.8,1068.3 L2507.5,1052.2 L2509.3,1053.4 L2510.5,1056.1 L2511.7,1057.1 L2513.7,1058.4 L2515.0,1044.7 L2516.2,1046.0 L2517.5,1042.2 L2518.7,1046.4 L2519.9,1047.2 L2521.2,1042.9 L2522.4,1038.5 L2524.2,1044.7 L2526.1,1044.7 L2528.1,1029.8 L2529.9,1028.6 L2531.1,1043.5 L2533.1,1048.4 L2534.8,1054.7 L2536.1,1052.8 L2537.3,1047.2 L2538.6,1049.0 L2539.8,1048.4 L2541.1,1047.7 L2542.3,1046.0 L2543.5,1051.1 L2544.8,1055.9 L2546.0,1055.4 L2547.3,1055.9 L2548.5,1055.5 L2549.8,1052.2 L2551.0,1048.6 L2552.2,1049.7 L2553.5,1046.4 L2554.7,1046.0 L2556.0,1043.5 L2557.2,1041.0 L2558.9,1028.6 L2560.4,998.8 L2562.2,973.9 L2563.9,971.4 L2565.9,978.9 L2567.9,951.6 L2569.1,945.8 L2570.4,946.6 L2571.6,943.8 L2572.9,942.9 L2574.3,940.3 L2575.8,946.6 L2577.1,936.6 L2578.3,935.6 L2579.6,938.7 L2580.8,937.9 L2582.0,941.0 L2583.3,941.6 L2584.5,943.4 L2585.8,945.3 L2587.8,954.0 L2589.5,966.5 L2591.2,962.7 L2593.2,956.5 L2594.5,929.2 L2595.7,925.6 L2597.0,923.0 L2598.0,919.5 L2599.1,926.2 L2600.2,921.7 L2601.4,927.2 L2602.7,930.4 L2604.4,942.9 L2605.7,945.9 L2606.9,944.1 L2608.6,934.2 L2610.6,939.1 L2611.9,954.0 L2613.1,952.7 L2614.3,955.3 L2615.6,958.0 L2616.8,961.5 L2617.6,983.9 L2619.3,993.8 L2621.1,978.9 L2622.5,926.7 L2624.3,925.5 L2626.0,891.9 L2627.3,884.2 L2628.5,884.5 L2629.6,884.9 L2630.7,884.0 L2631.7,880.7 L2633.5,887.0 L2635.5,882.0 L2636.7,893.2 L2638.0,880.9 L2639.2,877.0 L2640.4,877.5 L2641.7,878.3 L2642.9,880.9 L2644.2,880.7 L2645.2,877.3 L2646.3,877.6 L2647.4,882.0 L2648.6,879.0 L2649.9,880.7 L2651.6,859.6 L2652.7,856.2 L2653.8,852.4 L2654.8,853.4 L2656.3,854.7 L2657.8,855.9 L2659.1,857.1 L2660.3,857.1 L2661.6,874.1 L2662.8,888.2 L2664.3,887.9 L2665.8,884.5 L2667.8,862.1 L2668.9,864.2 L2670.0,859.6 L2671.1,866.1 L2672.9,879.8 L2674.8,866.1 L2676.3,868.6 L2677.8,866.1 L2679.8,884.7 L2681.1,884.3 L2682.3,889.7 L2684.3,895.9 L2685.5,892.3 L2686.8,890.9 L2688.0,890.5 L2689.3,894.7 L2690.5,891.7 L2691.7,893.4 L2693.5,889.7 L2694.7,897.0 L2696.0,904.6 L2697.2,900.3 L2698.4,895.9 L2699.7,882.2 L2700.9,883.3 L2702.2,882.2 L2703.4,881.9 L2704.7,888.4 L2706.1,887.0 L2707.6,890.9 L2708.4,908.3 L2710.1,895.9 L2711.4,898.3 L2712.6,900.9 L2713.9,903.5 L2715.1,907.1 L2716.3,909.5 L2717.6,913.3 L2719.6,912.0 L2721.6,899.6 L2723.3,894.7 L2725.0,858.6 L2726.3,852.3 L2727.5,846.2 L2728.8,847.6 L2730.0,852.4 L2731.1,853.6 L2732.2,852.4 L2733.2,851.2 L2734.5,848.5 L2735.7,846.2 L2737.0,840.0 L2738.9,841.2 L2740.7,851.2 L2742.4,858.6 L2743.9,869.8 L2745.7,853.7 L2746.9,855.9 L2748.1,861.1 L2749.4,853.7 L2750.6,855.8 L2751.9,858.6 L2753.1,852.0 L2754.3,857.4 L2755.6,860.2 L2756.8,867.3 L2758.8,859.9 L2760.6,866.1 L2761.8,866.2 L2763.0,866.1 L2764.3,861.5 L2765.5,863.6 L2766.6,864.5 L2767.7,864.8 L2768.8,864.8 L2770.0,863.1 L2771.2,867.3 L2773.0,868.6 L2774.7,858.6 L2776.0,860.6 L2777.2,863.6 L2778.3,862.5 L2779.4,863.8 L2780.4,862.4 L2781.7,866.8 L2782.9,868.6 L2784.2,886.0 L2785.4,904.6 L2786.6,903.9 L2787.9,903.4 L2789.1,897.8 L2790.4,895.9 L2792.1,907.1 L2794.1,905.8 L2795.3,892.2 L2796.6,886.0 L2798.6,886.0 L2799.1,907.1 L2800.3,907.4 L2801.6,908.3 L2802.8,906.9 L2804.0,905.8 L2805.3,908.7 L2806.5,908.3 L2807.8,909.6 L2809.0,909.6 L2811.0,915.8 L2812.7,903.4 L2814.5,898.4 L2815.7,896.2 L2817.0,897.1 L2818.9,889.7 L2820.9,898.4 L2822.2,894.8 L2823.4,897.1 L2824.7,899.4 L2825.9,903.4 L2827.1,898.0 L2828.4,895.9 L2830.1,890.9 L2831.9,883.5 L2833.1,881.7 L2834.3,884.7 L2835.4,883.2 L2836.5,881.2 L2837.6,881.0 L2838.8,883.1 L2840.1,884.7 L2841.8,893.4 L2843.8,897.1 L2845.8,890.9 L2846.8,874.8 L2848.8,878.5 L2850.7,863.6 L2852.0,861.6 L2853.2,857.4 L2854.2,826.3 L2856.2,813.9 L2857.5,815.5 L2858.7,818.9 L2860.7,812.7 L2862.4,805.2 L2863.7,814.7 L2864.9,813.9 L2866.6,808.9 L2867.9,807.0 L2869.1,806.5 L2870.6,801.5 L2872.4,785.3 L2873.6,792.1 L2874.8,794.0 L2876.6,784.1 L2878.6,799.0 L2880.6,786.6 L2882.3,785.3 L2884.0,799.0 L2885.5,785.3 L2886.8,785.0 L2888.0,784.1 L2889.3,788.4 L2890.5,787.8 L2892.2,782.9 L2893.5,778.9 L2894.7,785.3 L2896.5,766.7 L2898.0,734.4 L2899.4,732.1 L2900.9,733.2 L2902.2,733.7 L2903.4,733.2 L2904.7,756.8 L2905.9,754.4 L2907.1,749.3 L2908.4,738.1 L2909.6,749.5 L2910.9,750.6 L2912.1,744.4 L2913.4,736.9 L2914.8,737.8 L2916.3,733.2 L2917.4,736.9 L2918.5,739.4 L2919.6,739.4 L2920.8,740.5 L2922.0,739.4 L2923.8,746.8 L2925.0,744.0 L2926.3,741.9 L2927.8,727.0 L2929.0,734.3 L2930.2,739.4 L2932.0,733.2 L2933.2,712.0 L2934.5,709.1 L2935.7,710.8 L2937.7,714.5 L2938.7,744.3 L2939.9,742.6 L2941.2,735.7 L2942.4,737.8 L2943.7,744.3 L2945.7,751.8 L2947.6,753.0 L2948.9,766.7 L2950.1,767.3 L2951.4,766.7 L2952.6,750.6 L2953.9,752.7 L2955.1,745.6 L2956.1,739.4 L2958.1,745.6 L2960.1,739.4 L2961.3,740.1 L2962.5,741.9 L2964.3,740.6 L2966.0,724.5 L2967.5,707.1 L2968.8,702.2 L2970.0,697.1 L2971.7,678.5 L2973.0,680.4 L2974.2,677.3 L2975.5,675.5 L2976.7,673.5 L2978.4,681.0 L2980.4,681.0 L2981.7,679.8 L2982.9,682.2 L2984.9,677.3 L2985.9,654.9 L2986.6,640.0 L2986.7,618.4 L2988.6,623.4 L2990.3,611.0 L2991.8,588.6 L2993.5,609.8 L2995.3,588.6 L2996.5,588.0 L2997.8,586.1 L2999.8,566.3 L3001.0,568.2 L3002.2,567.5 L3004.2,602.3 L3006.0,588.6 L3007.7,618.4 L3009.7,592.4 L3011.7,611.0 L3013.4,581.2 L3014.5,581.1 L3015.6,576.2 L3016.6,576.2 L3018.1,580.1 L3019.6,576.2 L3021.6,601.1 L3022.9,604.7 L3024.1,601.1 L3025.8,588.6 L3027.6,573.7 L3029.6,573.7 L3030.8,576.9 L3032.0,579.9 L3033.3,608.5 L3034.5,609.7 L3035.8,609.8 L3037.5,622.2 L3039.5,604.8 L3041.5,603.5 L3042.5,591.1 L3043.7,593.9 L3045.0,598.6 L3047.0,611.0 L3048.2,615.3 L3049.4,613.5 L3050.7,625.0 L3051.9,639.6 L3053.9,638.3 L3054.9,611.0 L3056.1,611.2 L3057.4,608.5 L3059.4,617.2 L3061.4,627.1 L3062.6,623.0 L3063.9,620.9 L3065.1,619.4 L3066.3,620.9 L3067.3,601.1 L3069.3,594.8 L3071.3,573.7 L3073.0,593.6 L3074.8,588.6 L3076.8,581.2 L3078.8,586.1 L3080.0,592.1 L3081.2,594.8 L3083.0,583.7 L3084.2,590.3 L3085.5,591.1 L3086.7,582.4 L3088.0,573.7 L3089.2,576.6 L3090.4,582.4 L3091.7,584.8 L3092.9,583.7 L3094.2,583.6 L3095.4,583.7 L3097.1,598.6 L3099.1,596.1 L3101.1,599.8 L3102.9,604.8 L3104.1,606.7 L3105.3,607.3 L3106.6,621.2 L3107.8,628.4 L3108.9,630.5 L3110.0,626.4 L3111.1,627.1 L3112.3,627.2 L3113.5,617.2 L3114.8,616.6 L3116.0,616.0 L3117.0,628.4 L3118.5,647.0 L3119.8,651.9 L3121.0,653.2 L3122.2,646.8 L3123.5,643.3 L3124.7,644.4 L3126.0,645.8 L3127.5,634.5 L3128.9,630.9 L3130.2,604.8 L3131.4,606.8 L3132.7,601.1 L3133.9,611.0 L3135.9,586.1 L3137.1,597.2 L3138.4,602.3 L3139.6,595.9 L3140.9,594.8 L3142.1,587.2 L3143.4,586.1 L3145.1,598.6 L3146.3,598.1 L3147.6,604.8 L3149.3,630.9 L3151.3,664.4 L3153.3,658.2 L3155.0,623.4 L3156.3,626.0 L3157.5,623.4 L3158.8,633.4 L3160.7,628.4 L3162.5,643.3 L3163.7,639.2 L3165.0,637.1 L3166.2,635.7 L3167.5,634.6 L3169.2,628.4 L3170.7,608.5 L3171.9,607.2 L3173.2,607.3 L3174.9,630.9 L3176.1,633.1 L3177.4,635.8 L3179.1,637.1 L3179.9,643.3 L3181.1,637.8 L3182.4,637.1 L3184.3,666.9 L3185.5,665.7 L3186.6,664.4 L3188.6,650.7 L3189.8,643.9 L3191.1,643.3 L3192.3,628.4 L3193.5,628.8 L3194.8,629.6 L3196.0,639.6 L3198.0,616.0 L3199.3,614.8 L3200.5,612.2 L3201.7,612.6 L3203.0,611.0 L3204.7,613.5 L3206.0,601.1 L3208.0,599.8 L3209.7,603.5 L3210.9,625.9 L3212.2,626.0 L3213.4,627.1 L3214.7,619.6 L3215.9,616.0 L3217.9,613.5 L3219.6,630.9 L3221.4,618.4 L3223.4,618.4 L3224.6,598.6 L3225.8,594.6 L3227.1,589.9 L3228.3,586.9 L3229.6,586.1 L3230.6,590.4 L3231.7,589.5 L3232.8,588.6 L3234.5,599.8 L3235.8,595.8 L3237.0,592.4 L3238.8,586.1 L3240.2,565.0 L3241.5,565.9 L3242.7,568.8 L3244.5,586.1 L3246.2,589.9 L3248.2,555.1 L3249.7,551.1 L3251.2,550.1 L3253.2,504.2 L3255.2,505.4 L3256.9,491.7 L3258.1,493.4 L3259.4,499.2 L3260.6,494.7 L3261.9,491.7 L3263.6,468.1 L3264.8,466.9 L3266.1,464.4 L3267.6,489.3 L3268.8,485.4 L3270.1,479.3 L3271.3,477.5 L3272.5,473.1 L3274.3,476.8 L3276.0,468.1 L3277.5,476.8 L3279.3,464.4 L3281.0,461.9 L3283.0,473.1 L3285.0,460.7 L3286.2,464.1 L3287.5,458.2 L3289.2,442.0 L3290.9,442.0 L3292.4,471.9 L3293.7,470.3 L3294.9,471.9 L3296.6,479.3 L3297.9,473.1 L3299.1,466.9 L3300.9,483.0 L3301.9,491.3 L3303.0,483.1 L3304.1,489.3 L3305.3,481.9 L3306.6,476.8 L3307.8,474.7 L3309.1,471.9 L3310.8,457.0 L3312.8,469.4 L3314.8,486.8 L3316.0,485.9 L3317.3,484.3 L3319.0,455.7 L3320.0,454.5 L3321.1,461.7 L3322.9,449.3 L3323.9,448.9 L3325.0,446.2 L3326.1,445.5 L3327.2,446.7 L3328.2,446.5 L3329.3,446.8 L3330.8,451.0 L3332.3,451.7 L3333.5,446.3 L3334.8,449.3 L3336.0,447.9 L3337.3,450.5 L3338.5,469.1 L3340.2,459.2 L3342.2,474.1 L3343.5,474.1 L3344.7,471.8 L3346.0,474.1 L3347.2,471.4 L3348.4,474.7 L3349.7,472.9 L3350.9,473.9 L3352.2,477.8 L3353.4,475.5 L3354.7,470.4 L3356.1,472.6 L3357.6,471.6 L3358.7,474.8 L3359.8,477.7 L3360.9,479.1 L3362.6,501.4 L3364.1,523.8 L3365.3,521.1 L3366.6,518.8 L3368.3,482.8 L3370.1,511.4 L3372.0,496.5 L3374.0,508.9 L3375.8,541.2 L3377.5,538.7 L3379.0,523.8 L3380.2,519.4 L3381.5,521.3 L3382.7,519.4 L3384.0,517.6 L3385.7,511.4 L3387.0,518.0 L3388.2,522.5 L3389.4,513.9 L3390.7,507.6 L3391.8,506.6 L3392.8,507.6 L3393.9,505.2 L3395.7,526.3 L3396.9,520.0 L3398.1,517.6 L3399.4,520.2 L3400.6,520.1 L3401.9,527.3 L3403.1,526.3 L3404.3,533.7 L3405.6,543.7 L3407.3,551.1 L3409.3,531.2 L3410.6,517.6 L3411.8,520.4 L3413.0,522.5 L3414.3,513.9 L3415.8,515.4 L3417.3,517.6 L3418.5,519.1 L3419.8,513.9 L3421.2,484.0 L3422.5,482.9 L3423.7,480.3 L3425.0,486.6 L3426.2,489.0 L3428.0,476.6 L3429.2,476.9 L3430.4,480.3 L3431.7,483.4 L3432.9,486.5 L3434.2,481.5 L3435.4,476.6 L3437.1,469.1 L3438.6,446.8 L3439.9,445.3 L3441.1,451.7 L3442.9,446.8 L3444.1,451.2 L3445.3,449.3 L3446.6,453.7 L3447.8,454.2 L3449.6,441.8 L3451.6,428.1 L3453.5,426.9 L3455.3,436.8 L3456.5,430.5 L3457.8,431.9 L3459.5,439.3 L3461.5,451.7 L3463.5,446.8 L3465.2,444.3 L3467.0,456.7 L3468.9,449.3 L3470.9,429.4 L3472.7,430.6 L3473.9,444.3 L3475.2,445.3 L3476.4,443.0 L3478.4,445.5 L3479.6,445.9 L3480.9,446.8 L3482.1,451.5 L3483.4,454.2 L3485.1,459.2 L3486.8,441.8 L3488.8,436.8 L3490.8,441.8 L3492.5,431.9 L3494.3,443.0 L3496.3,429.4 L3497.5,434.5 L3498.8,438.1 L3500.0,431.7 L3501.2,431.9 L3503.2,426.9 L3504.2,409.5 L3505.5,405.9 L3506.7,403.3 L3508.7,399.6 L3510.7,407.0 L3511.9,408.4 L3513.2,403.3 L3514.4,405.8 L3515.7,410.7 L3517.1,404.8 L3518.6,403.3 L3520.6,398.3 L3522.4,407.0 L3523.6,405.3 L3524.8,409.5 L3526.6,424.4 L3528.6,425.7 L3530.6,419.4 L3532.3,407.0 L3534.0,414.5 L3535.5,402.0 L3537.3,403.3 L3539.0,395.8 L3541.0,409.5 L3543.0,408.3 L3544.7,421.9 L3546.5,413.2 L3548.4,413.2 L3550.4,425.7 L3551.7,423.0 L3552.9,425.7 L3554.7,440.6 L3555.9,435.7 L3557.1,429.4 L3558.4,431.2 L3559.6,425.7 L3561.4,433.1 L3563.4,428.1 L3565.3,430.6 L3567.1,419.4 L3568.3,417.3 L3569.6,413.2 L3570.8,415.0 L3572.0,415.7 L3573.3,417.5 L3574.5,409.5 L3576.3,415.7 L3578.3,409.5 L3580.2,421.9 L3582.0,428.1 L3583.2,439.3 L3584.5,432.0 L3585.7,426.9 L3587.7,421.9 L3589.4,404.5 L3591.2,395.8 L3593.2,392.1 L3594.7,390.6 L3596.1,392.1 L3598.1,397.1 L3599.4,428.1 L3600.6,423.1 L3601.9,415.7 L3603.6,428.1 L3605.6,445.5 L3606.8,439.9 L3608.1,431.9 L3610.1,443.0 L3611.3,434.6 L3612.5,430.6 L3614.3,415.7 L3615.5,415.0 L3616.8,419.4 L3618.5,434.3 L3620.5,429.4 L3622.5,426.9 L3624.2,458.0 L3625.5,444.3 L3626.7,429.4 L3628.4,454.2 L3630.4,449.3" fill="none" stroke="#111113" stroke-width="5" stroke-linejoin="miter" stroke-miterlimit="4"/>
<defs><clipPath id="pc"><rect x="330" y="300" width="3340" height="1750"/></clipPath></defs><g clip-path="url(#pc)">
<path d="M370.6,2048.6 L597.6,2048.0 L599.0,2046.1 L628.3,2046.1 L639.5,2047.2 L699.6,2047.8 L701.6,2041.1 L731.7,2040.5 L733.1,2047.8 L804.4,2048.3 L849.1,2046.6 L885.5,2047.8 L919.0,2046.9 L963.7,2047.5 L963.8,2047.4 L981.8,2047.0 L982.6,2043.7 L990.3,2043.7 L992.3,2039.3 L994.3,2034.2 L999.4,2032.2 L1008.4,2031.2 L1009.5,2022.7 L1015.5,2022.1 L1016.5,2026.8 L1024.6,2027.6 L1026.6,2033.2 L1029.6,2034.2 L1030.7,2029.2 L1036.7,2030.2 L1037.7,2028.2 L1040.7,2027.6 L1041.8,2038.3 L1048.8,2037.3 L1052.9,2035.7 L1053.9,2025.2 L1058.9,2024.8 L1063.0,2026.2 L1064.0,2032.2 L1069.0,2032.2 L1070.0,2030.2 L1073.0,2032.2 L1079.1,2032.2 L1080.1,1994.9 L1085.2,1993.3 L1086.2,2004.6 L1089.2,2004.0 L1097.3,2003.0 L1109.4,2003.4 L1111.4,2005.0 L1112.4,2033.2 L1117.5,2034.2 L1121.5,2038.3 L1123.5,2032.2 L1131.6,2032.8 L1137.6,2031.6 L1141.7,2032.2 L1142.7,2041.3 L1147.7,2041.3 L1148.7,2034.2 L1152.8,2034.8 L1153.8,2043.7 L1159.8,2043.7 L1165.9,2044.9 L1174.0,2043.7 L1184.1,2043.7 L1185.1,2041.3 L1186.1,2013.0 L1188.1,2011.4 L1194.2,2010.0 L1204.3,2009.0 L1205.3,2005.4 L1210.3,2005.0 L1216.4,2004.0 L1217.4,2009.0 L1218.4,2037.3 L1224.4,2036.9 L1234.5,2037.3 L1236.6,2042.3 L1243.6,2042.3 L1244.6,1999.9 L1248.7,1999.9 L1256.7,2000.5 L1264.8,2001.3 L1273.9,2000.9 L1276.9,2003.0 L1277.9,2043.3 L1283.0,2041.3 L1291.1,2039.3 L1295.1,2037.3 L1298.1,2029.2 L1303.2,2029.2 L1307.2,2027.2 L1308.2,2024.1 L1315.3,2025.2 L1321.3,2023.5 L1323.4,2026.8 L1329.4,2028.2 L1333.4,2033.2 L1337.5,2034.2 L1339.5,2039.3 L1343.5,2040.3 L1347.6,2037.3 L1352.6,2038.3 L1355.7,2042.9 L1363.7,2043.7 L1375.8,2043.7 L1383.9,2044.9 L1394.0,2042.3 L1400.1,2040.3 L1412.2,2040.9 L1413.2,2037.3 L1417.2,2036.9 L1418.2,2041.3 L1422.3,2039.3 L1423.3,2026.2 L1428.3,2023.5 L1436.4,2023.1 L1441.4,2021.1 L1442.5,2015.1 L1448.5,2014.7 L1453.6,2016.1 L1454.6,2025.2 L1458.6,2026.2 L1460.6,2030.2 L1466.7,2029.2 L1470.7,2027.2 L1472.7,2023.5 L1475.8,2029.2 L1480.0,2034.2 L1483.6,2035.4 L1486.1,2030.4 L1489.8,2029.2 L1491.8,2023.0 L1497.3,2022.5 L1501.0,2025.5 L1503.5,2023.0 L1508.4,2023.0 L1512.7,2021.7 L1515.2,2016.8 L1517.1,2023.0 L1519.6,2025.5 L1521.6,2034.2 L1524.6,2036.6 L1530.8,2034.2 L1537.0,2035.4 L1544.5,2036.6 L1547.0,2039.1 L1554.4,2037.9 L1561.9,2039.1 L1569.3,2044.1 L1579.3,2041.6 L1588.0,2041.6 L1589.2,2036.6 L1596.6,2037.9 L1600.4,2037.4 L1606.6,2039.1 L1615.3,2038.4 L1617.0,2035.4 L1619.0,2037.9 L1621.5,2040.4 L1633.9,2040.4 L1642.6,2039.1 L1645.1,2036.6 L1648.8,2039.1 L1655.8,2039.1 L1656.8,2034.2 L1666.2,2035.4 L1676.1,2036.6 L1682.4,2032.9 L1688.6,2035.4 L1699.8,2036.6 L1701.0,2032.9 L1708.4,2032.4 L1713.4,2036.6 L1719.6,2037.9 L1727.1,2036.6 L1729.6,2034.2 L1730.3,1754.7 L1732.5,1747.2 L1734.5,1755.9 L1737.8,1755.2 L1738.8,1747.2 L1745.7,1744.7 L1753.2,1740.2 L1756.9,1739.8 L1760.6,1737.3 L1761.4,2018.0 L1764.3,2020.5 L1769.3,2019.3 L1770.6,2029.2 L1774.3,2026.7 L1779.3,2027.5 L1782.5,2031.7 L1783.5,2020.5 L1788.0,2019.3 L1790.4,2023.0 L1792.4,2010.6 L1795.4,2009.3 L1799.1,2001.9 L1802.9,1995.7 L1804.8,1990.7 L1807.8,1989.4 L1809.8,1969.6 L1814.0,1968.3 L1815.8,1975.8 L1819.0,1974.5 L1822.7,1980.7 L1826.5,1988.2 L1830.2,1985.7 L1832.7,1993.2 L1837.6,2000.6 L1840.1,2020.5 L1842.6,2010.6 L1846.3,2016.8 L1852.5,2015.0 L1857.5,2018.0 L1861.2,2020.5 L1867.5,2018.0 L1873.7,2016.8 L1875.4,2028.0 L1879.9,2021.7 L1887.3,2023.0 L1893.5,2024.2 L1898.5,2029.2 L1904.7,2025.5 L1907.2,2020.5 L1909.7,2025.5 L1919.6,2024.2 L1924.6,2023.0 L1927.6,2013.0 L1930.1,2003.1 L1934.5,2004.3 L1938.3,2001.9 L1940.7,1975.8 L1943.2,1973.3 L1947.0,1972.8 L1950.7,1969.6 L1955.7,1970.8 L1959.4,1980.7 L1961.9,1993.2 L1966.8,1990.7 L1970.6,1998.1 L1973.0,2028.0 L1980.0,2030.4 L1981.3,2032.4 L1990.4,2030.5 L1996.4,2031.5 L1999.5,2037.5 L2005.5,2038.4 L2006.5,1790.0 L2010.1,1793.1 L2020.7,1792.5 L2028.3,1790.7 L2037.4,1790.0 L2038.3,2031.5 L2045.0,2030.5 L2051.1,2033.0 L2060.2,2032.4 L2067.8,2036.6 L2070.8,2030.5 L2083.0,2031.5 L2084.5,2017.8 L2090.6,2017.2 L2095.1,2014.1 L2102.7,2016.3 L2107.3,2017.8 L2110.3,2011.7 L2113.3,2008.7 L2116.4,2017.8 L2125.5,2016.3 L2131.6,2014.8 L2136.1,2011.7 L2142.2,2014.8 L2145.8,2017.2 L2149.8,2011.7 L2151.3,1999.6 L2157.4,1999.0 L2165.0,1999.6 L2166.5,1985.9 L2172.6,1982.0 L2177.1,1982.9 L2181.7,1996.5 L2187.7,1995.0 L2194.4,1992.9 L2196.9,2020.8 L2200.5,2023.9 L2201.4,1641.3 L2206.0,1648.8 L2212.0,1650.4 L2218.1,1649.8 L2224.2,1647.3 L2231.8,1643.7 L2233.3,2011.7 L2240.9,2005.0 L2247.0,2008.7 L2253.0,2008.1 L2259.1,2013.2 L2263.7,2014.8 L2265.2,2025.4 L2268.2,2020.8 L2272.8,2026.3 L2278.8,2023.9 L2286.4,2022.3 L2292.5,2023.3 L2295.5,2007.2 L2298.6,2008.7 L2301.6,2014.8 L2306.2,2003.2 L2311.6,2001.1 L2314.7,1996.5 L2319.8,1989.9 L2323.8,1996.5 L2328.0,1991.1 L2332.9,1990.5 L2336.5,2001.1 L2341.1,1993.5 L2346.3,1987.4 L2351.1,1985.9 L2354.8,1988.0 L2357.2,1979.8 L2360.2,1992.0 L2364.5,1993.5 L2368.4,1984.4 L2372.4,1993.5 L2376.6,1999.0 L2380.6,2005.0 L2385.1,2003.2 L2389.7,2010.2 L2394.2,2012.3 L2398.8,2014.8 L2402.7,2025.4 L2409.4,2025.4 L2415.5,2022.3 L2423.1,2021.4 L2424.6,2014.8 L2430.7,2017.8 L2438.3,2016.3 L2444.3,2014.8 L2449.5,2017.8 L2455.0,2018.4 L2456.5,2029.9 L2464.1,2026.9 L2473.2,2028.4 L2479.9,2030.5 L2484.8,2027.5 L2489.8,2025.5 L2492.3,2020.5 L2496.0,2003.1 L2499.8,1985.7 L2501.0,1969.6 L2506.0,1959.6 L2509.7,1953.4 L2513.4,1947.2 L2516.6,1946.0 L2519.1,1942.2 L2522.1,1944.7 L2524.1,1946.0 L2526.6,1955.9 L2530.8,1959.6 L2532.5,1982.0 L2537.0,1980.7 L2540.0,1983.2 L2542.5,1989.4 L2545.7,1982.0 L2548.2,1979.5 L2551.9,1983.2 L2555.7,1985.7 L2559.4,1990.7 L2562.4,1998.1 L2564.8,1996.9 L2566.3,1978.3 L2569.3,1982.0 L2571.3,1969.6 L2574.3,1968.3 L2576.8,1978.3 L2578.8,1982.0 L2583.0,1980.7 L2586.7,1982.0 L2590.4,1979.5 L2595.4,1979.5 L2596.6,2003.1 L2599.1,2008.1 L2601.6,2008.1 L2602.9,2020.5 L2606.6,2023.0 L2610.3,2022.5 L2612.8,2025.5 L2616.0,2023.0 L2619.0,2023.0 L2621.5,2014.3 L2624.0,2010.6 L2627.7,2009.3 L2630.2,2005.6 L2633.9,2006.8 L2637.6,2003.1 L2640.1,1999.4 L2641.9,1994.4 L2645.1,1995.7 L2648.3,1995.7 L2650.8,1996.9 L2653.3,2010.6 L2657.5,2008.1 L2660.0,2010.6 L2662.5,2003.1 L2666.2,2004.3 L2669.9,2003.1 L2672.4,2010.6 L2678.6,2010.6 L2681.1,2011.8 L2683.1,2005.6 L2684.1,1975.8 L2688.6,1974.5 L2693.5,1975.3 L2696.0,1973.3 L2698.0,1964.6 L2701.0,1968.3 L2704.7,1967.1 L2708.4,1968.3 L2711.4,1963.4 L2713.9,1959.6 L2715.4,2000.6 L2719.6,1996.9 L2723.4,1998.1 L2726.3,1990.7 L2727.8,1978.3 L2730.3,1989.4 L2732.8,1983.2 L2735.8,1982.0 L2739.5,1982.0 L2743.2,1987.0 L2745.7,1989.4 L2748.2,1995.7 L2751.9,1989.4 L2755.2,1984.5 L2757.6,1990.7 L2759.4,2006.8 L2762.6,2006.8 L2765.6,2005.6 L2768.1,2010.1 L2772.5,2009.3 L2775.5,2010.1 L2779.3,1996.9 L2781.7,1988.2 L2785.0,1982.0 L2787.5,1988.2 L2790.4,1989.4 L2792.4,1968.3 L2794.2,1948.4 L2795.9,1913.7 L2799.1,1911.2 L2802.4,1912.4 L2805.3,1909.9 L2807.8,1911.2 L2810.3,1918.6 L2813.3,1931.1 L2815.8,1937.3 L2819.0,1931.1 L2822.2,1928.6 L2824.0,1955.9 L2826.5,1980.7 L2828.2,2006.8 L2831.4,2010.6 L2834.7,2005.6 L2837.6,1998.1 L2841.4,1995.7 L2844.6,1991.9 L2848.1,1988.2 L2850.1,1993.2 L2852.5,1996.9 L2856.3,1995.7 L2859.5,1998.1 L2862.5,1995.7 L2866.2,1995.7 L2868.7,2005.6 L2871.2,2010.6 L2874.4,2010.1 L2877.4,2014.3 L2881.1,2014.3 L2883.6,2003.1 L2886.1,1983.2 L2889.3,1978.3 L2891.1,1969.6 L2894.3,1968.3 L2897.8,1964.6 L2901.0,1960.9 L2904.7,1953.9 L2908.4,1953.9 L2911.7,1955.9 L2914.2,1963.4 L2916.6,1955.9 L2918.4,1973.3 L2920.9,1957.1 L2924.1,1968.3 L2927.1,1977.0 L2930.1,1964.6 L2933.3,1970.8 L2936.5,1978.3 L2939.5,1972.0 L2943.2,1969.6 L2945.7,1980.7 L2948.2,1970.8 L2951.4,1990.7 L2954.4,1989.4 L2956.9,1978.3 L2959.9,1987.0 L2963.1,1985.7 L2966.3,1990.7 L2969.3,1993.2 L2971.8,1998.1 L2975.5,1996.9 L2980.0,1998.1 L2981.1,1994.4 L2983.6,2004.3 L2984.8,1988.2 L2986.1,1927.3 L2988.6,1911.2 L2991.1,1908.7 L2993.5,1893.8 L2996.0,1878.9 L2999.3,1871.4 L3001.7,1860.2 L3004.2,1856.5 L3007.2,1852.8 L3009.2,1821.7 L3010.9,1785.7 L3012.7,1784.5 L3014.2,1767.1 L3017.1,1772.0 L3017.6,1809.3 L3018.4,1845.3 L3019.6,1864.0 L3021.6,1864.0 L3024.1,1873.9 L3027.1,1888.8 L3030.8,1902.5 L3034.0,1912.4 L3037.5,1917.4 L3039.5,1936.0 L3041.5,1969.6 L3042.5,1982.0 L3044.5,1983.2 L3047.0,1998.1 L3048.9,2005.6 L3051.9,2000.6 L3053.9,1996.9 L3056.9,2004.3 L3059.4,2000.6 L3063.1,2001.9 L3066.3,2003.1 L3067.3,1975.8 L3070.6,1984.5 L3073.0,1978.3 L3075.5,1969.6 L3078.8,1970.8 L3082.2,1973.3 L3085.5,1975.8 L3088.0,1958.4 L3091.2,1955.9 L3094.7,1954.7 L3096.1,1944.7 L3097.9,1943.5 L3099.1,1972.0 L3102.9,1969.6 L3105.3,1967.1 L3107.8,1980.7 L3110.3,1970.8 L3112.0,1944.7 L3114.0,1936.0 L3117.0,1938.5 L3120.2,1946.0 L3123.5,1938.5 L3126.5,1947.2 L3130.2,1950.9 L3133.4,1938.5 L3136.4,1932.3 L3137.6,1905.0 L3140.1,1907.5 L3141.9,1931.1 L3145.1,1923.6 L3147.6,1924.8 L3150.1,1913.7 L3151.8,1898.8 L3155.0,1892.5 L3157.5,1896.3 L3160.0,1891.3 L3162.5,1896.3 L3165.0,1897.5 L3166.2,1911.2 L3168.2,1906.2 L3169.2,1938.5 L3172.4,1923.6 L3174.2,1938.5 L3176.1,1911.2 L3178.6,1909.9 L3181.1,1929.8 L3183.6,1942.2 L3187.3,1953.4 L3191.1,1952.2 L3194.8,1947.2 L3197.3,1933.5 L3199.8,1948.4 L3201.5,1933.5 L3203.5,1946.0 L3206.5,1941.0 L3208.0,1969.6 L3210.9,1972.0 L3213.4,1967.1 L3217.1,1965.8 L3219.6,1958.4 L3222.9,1958.4 L3225.3,1918.6 L3227.1,1914.9 L3229.6,1927.3 L3232.0,1923.6 L3233.8,1906.2 L3237.0,1905.0 L3240.2,1902.5 L3242.0,1895.0 L3245.2,1896.3 L3247.7,1873.9 L3249.4,1834.2 L3251.2,1814.3 L3253.2,1813.0 L3254.4,1774.5 L3255.7,1753.4 L3259.4,1752.2 L3260.6,1712.4 L3263.1,1709.9 L3264.3,1700.0 L3264.4,1675.8 L3264.8,1650.9 L3266.8,1648.4 L3267.8,1459.6 L3269.8,1447.2 L3271.0,1437.3 L3273.5,1449.7 L3276.0,1431.1 L3278.4,1432.3 L3279.7,1457.1 L3281.7,1470.8 L3282.7,1424.8 L3284.0,1348.0 L3284.6,1300.0 L3285.7,1208.0 L3287.8,1207.0 L3289.0,1222.0 L3290.0,1164.0 L3291.5,1163.0 L3292.5,1159.0 L3295.0,1158.5 L3295.4,1215.0 L3296.4,1215.0 L3297.2,1177.0 L3298.8,1177.0 L3299.0,1250.0 L3299.3,1330.0 L3300.5,1372.0 L3304.5,1389.0 L3306.5,1371.0 L3308.3,1363.0 L3310.0,1356.0 L3311.0,1274.0 L3312.5,1271.4 L3314.0,1286.0 L3314.5,1348.0 L3315.7,1423.0 L3316.0,1424.8 L3316.5,1494.4 L3317.0,1593.8 L3319.4,1606.2 L3321.4,1624.8 L3323.9,1631.1 L3325.7,1655.9 L3327.4,1688.2 L3330.6,1675.8 L3334.3,1679.5 L3336.3,1694.4 L3338.8,1695.7 L3339.8,1718.0 L3341.3,1628.6 L3343.8,1623.6 L3344.8,1744.1 L3346.8,1749.1 L3349.3,1740.4 L3350.5,1701.9 L3353.0,1696.9 L3355.5,1716.8 L3358.0,1728.0 L3360.4,1735.4 L3362.2,1705.6 L3363.7,1670.8 L3366.1,1636.0 L3368.6,1639.8 L3370.4,1643.5 L3371.6,1730.4 L3375.3,1736.6 L3377.1,1720.5 L3379.1,1708.1 L3379.8,1611.2 L3381.1,1611.2 L3382.0,1650.9 L3384.0,1703.1 L3386.0,1680.7 L3388.5,1693.2 L3390.2,1680.7 L3392.7,1689.4 L3394.5,1734.2 L3396.0,1685.7 L3398.4,1703.1 L3400.2,1695.7 L3401.4,1658.4 L3403.9,1668.3 L3405.9,1648.4 L3408.4,1642.2 L3410.9,1650.9 L3411.9,1723.0 L3412.6,1750.3 L3415.1,1723.0 L3417.6,1720.5 L3419.3,1742.9 L3420.8,1723.0 L3421.8,1678.3 L3423.8,1673.3 L3425.0,1608.7 L3426.8,1608.7 L3427.5,1675.8 L3430.0,1638.5 L3432.5,1628.6 L3435.0,1618.6 L3436.7,1588.8 L3438.7,1587.6 L3440.7,1606.2 L3443.2,1578.9 L3444.9,1541.6 L3447.4,1549.1 L3449.9,1472.0 L3452.4,1474.5 L3453.6,1453.4 L3455.6,1453.4 L3456.6,1515.5 L3458.6,1474.5 L3460.6,1452.2 L3462.3,1452.2 L3463.5,1509.3 L3467.3,1508.1 L3468.5,1531.7 L3471.0,1521.7 L3473.5,1504.3 L3476.0,1503.1 L3477.2,1539.1 L3479.7,1571.4 L3482.2,1611.2 L3483.4,1653.4 L3485.4,1683.2 L3487.9,1668.3 L3489.6,1680.7 L3491.4,1711.8 L3492.9,1648.4 L3495.8,1646.0 L3497.8,1668.3 L3500.3,1663.4 L3502.0,1623.6 L3503.8,1622.4 L3505.3,1665.8 L3507.8,1636.0 L3509.5,1606.2 L3511.2,1586.3 L3513.7,1578.9 L3515.7,1516.8 L3517.7,1487.0 L3519.4,1441.0 L3521.9,1489.4 L3523.7,1437.3 L3525.7,1494.4 L3527.6,1469.6 L3529.4,1434.8 L3531.9,1426.1 L3533.6,1477.0 L3535.6,1464.6 L3538.1,1446.0 L3540.6,1464.6 L3543.5,1452.2 L3546.0,1457.1 L3547.5,1500.6 L3549.3,1539.1 L3551.0,1583.9 L3553.5,1607.5 L3555.0,1519.3 L3557.5,1534.2 L3559.2,1561.5 L3561.7,1535.4 L3564.2,1539.1 L3566.6,1529.2 L3568.4,1549.1 L3570.4,1524.2 L3572.4,1582.6 L3574.1,1549.1 L3575.8,1487.0 L3578.3,1482.0 L3579.8,1424.8 L3580.6,1423.0 L3582.4,1361.0 L3583.1,1338.5 L3586.3,1338.5 L3586.8,1440.4 L3589.3,1360.9 L3593.0,1360.9 L3593.8,1401.9 L3595.5,1298.8 L3596.8,1244.1 L3600.5,1244.1 L3601.0,1259.0 L3601.7,1174.5 L3602.2,1100.0 L3603.0,1030.8 L3606.7,1030.8 L3607.2,1105.3 L3609.2,968.7 L3612.9,968.7 L3614.2,1034.5 L3616.1,909.1 L3619.1,907.8 L3619.6,888.0 L3622.1,888.0 L3622.6,906.6 L3623.8,760.0 L3627.3,396.5 L3628.6,455.0 L3630.0,455.0 L3630.0,2050.0 L370.6,2050.0 Z" fill="#4c35de" fill-opacity="0.485" stroke="none"/>
<path d="M370.6,2048.6 L597.6,2048.0 L599.0,2046.1 L628.3,2046.1 L639.5,2047.2 L699.6,2047.8 L701.6,2041.1 L731.7,2040.5 L733.1,2047.8 L804.4,2048.3 L849.1,2046.6 L885.5,2047.8 L919.0,2046.9 L963.7,2047.5 L963.8,2047.4 L981.8,2047.0 L982.6,2043.7 L990.3,2043.7 L992.3,2039.3 L994.3,2034.2 L999.4,2032.2 L1008.4,2031.2 L1009.5,2022.7 L1015.5,2022.1 L1016.5,2026.8 L1024.6,2027.6 L1026.6,2033.2 L1029.6,2034.2 L1030.7,2029.2 L1036.7,2030.2 L1037.7,2028.2 L1040.7,2027.6 L1041.8,2038.3 L1048.8,2037.3 L1052.9,2035.7 L1053.9,2025.2 L1058.9,2024.8 L1063.0,2026.2 L1064.0,2032.2 L1069.0,2032.2 L1070.0,2030.2 L1073.0,2032.2 L1079.1,2032.2 L1080.1,1994.9 L1085.2,1993.3 L1086.2,2004.6 L1089.2,2004.0 L1097.3,2003.0 L1109.4,2003.4 L1111.4,2005.0 L1112.4,2033.2 L1117.5,2034.2 L1121.5,2038.3 L1123.5,2032.2 L1131.6,2032.8 L1137.6,2031.6 L1141.7,2032.2 L1142.7,2041.3 L1147.7,2041.3 L1148.7,2034.2 L1152.8,2034.8 L1153.8,2043.7 L1159.8,2043.7 L1165.9,2044.9 L1174.0,2043.7 L1184.1,2043.7 L1185.1,2041.3 L1186.1,2013.0 L1188.1,2011.4 L1194.2,2010.0 L1204.3,2009.0 L1205.3,2005.4 L1210.3,2005.0 L1216.4,2004.0 L1217.4,2009.0 L1218.4,2037.3 L1224.4,2036.9 L1234.5,2037.3 L1236.6,2042.3 L1243.6,2042.3 L1244.6,1999.9 L1248.7,1999.9 L1256.7,2000.5 L1264.8,2001.3 L1273.9,2000.9 L1276.9,2003.0 L1277.9,2043.3 L1283.0,2041.3 L1291.1,2039.3 L1295.1,2037.3 L1298.1,2029.2 L1303.2,2029.2 L1307.2,2027.2 L1308.2,2024.1 L1315.3,2025.2 L1321.3,2023.5 L1323.4,2026.8 L1329.4,2028.2 L1333.4,2033.2 L1337.5,2034.2 L1339.5,2039.3 L1343.5,2040.3 L1347.6,2037.3 L1352.6,2038.3 L1355.7,2042.9 L1363.7,2043.7 L1375.8,2043.7 L1383.9,2044.9 L1394.0,2042.3 L1400.1,2040.3 L1412.2,2040.9 L1413.2,2037.3 L1417.2,2036.9 L1418.2,2041.3 L1422.3,2039.3 L1423.3,2026.2 L1428.3,2023.5 L1436.4,2023.1 L1441.4,2021.1 L1442.5,2015.1 L1448.5,2014.7 L1453.6,2016.1 L1454.6,2025.2 L1458.6,2026.2 L1460.6,2030.2 L1466.7,2029.2 L1470.7,2027.2 L1472.7,2023.5 L1475.8,2029.2 L1480.0,2034.2 L1483.6,2035.4 L1486.1,2030.4 L1489.8,2029.2 L1491.8,2023.0 L1497.3,2022.5 L1501.0,2025.5 L1503.5,2023.0 L1508.4,2023.0 L1512.7,2021.7 L1515.2,2016.8 L1517.1,2023.0 L1519.6,2025.5 L1521.6,2034.2 L1524.6,2036.6 L1530.8,2034.2 L1537.0,2035.4 L1544.5,2036.6 L1547.0,2039.1 L1554.4,2037.9 L1561.9,2039.1 L1569.3,2044.1 L1579.3,2041.6 L1588.0,2041.6 L1589.2,2036.6 L1596.6,2037.9 L1600.4,2037.4 L1606.6,2039.1 L1615.3,2038.4 L1617.0,2035.4 L1619.0,2037.9 L1621.5,2040.4 L1633.9,2040.4 L1642.6,2039.1 L1645.1,2036.6 L1648.8,2039.1 L1655.8,2039.1 L1656.8,2034.2 L1666.2,2035.4 L1676.1,2036.6 L1682.4,2032.9 L1688.6,2035.4 L1699.8,2036.6 L1701.0,2032.9 L1708.4,2032.4 L1713.4,2036.6 L1719.6,2037.9 L1727.1,2036.6 L1729.6,2034.2 L1730.3,1754.7 L1732.5,1747.2 L1734.5,1755.9 L1737.8,1755.2 L1738.8,1747.2 L1745.7,1744.7 L1753.2,1740.2 L1756.9,1739.8 L1760.6,1737.3 L1761.4,2018.0 L1764.3,2020.5 L1769.3,2019.3 L1770.6,2029.2 L1774.3,2026.7 L1779.3,2027.5 L1782.5,2031.7 L1783.5,2020.5 L1788.0,2019.3 L1790.4,2023.0 L1792.4,2010.6 L1795.4,2009.3 L1799.1,2001.9 L1802.9,1995.7 L1804.8,1990.7 L1807.8,1989.4 L1809.8,1969.6 L1814.0,1968.3 L1815.8,1975.8 L1819.0,1974.5 L1822.7,1980.7 L1826.5,1988.2 L1830.2,1985.7 L1832.7,1993.2 L1837.6,2000.6 L1840.1,2020.5 L1842.6,2010.6 L1846.3,2016.8 L1852.5,2015.0 L1857.5,2018.0 L1861.2,2020.5 L1867.5,2018.0 L1873.7,2016.8 L1875.4,2028.0 L1879.9,2021.7 L1887.3,2023.0 L1893.5,2024.2 L1898.5,2029.2 L1904.7,2025.5 L1907.2,2020.5 L1909.7,2025.5 L1919.6,2024.2 L1924.6,2023.0 L1927.6,2013.0 L1930.1,2003.1 L1934.5,2004.3 L1938.3,2001.9 L1940.7,1975.8 L1943.2,1973.3 L1947.0,1972.8 L1950.7,1969.6 L1955.7,1970.8 L1959.4,1980.7 L1961.9,1993.2 L1966.8,1990.7 L1970.6,1998.1 L1973.0,2028.0 L1980.0,2030.4 L1981.3,2032.4 L1990.4,2030.5 L1996.4,2031.5 L1999.5,2037.5 L2005.5,2038.4 L2006.5,1790.0 L2010.1,1793.1 L2020.7,1792.5 L2028.3,1790.7 L2037.4,1790.0 L2038.3,2031.5 L2045.0,2030.5 L2051.1,2033.0 L2060.2,2032.4 L2067.8,2036.6 L2070.8,2030.5 L2083.0,2031.5 L2084.5,2017.8 L2090.6,2017.2 L2095.1,2014.1 L2102.7,2016.3 L2107.3,2017.8 L2110.3,2011.7 L2113.3,2008.7 L2116.4,2017.8 L2125.5,2016.3 L2131.6,2014.8 L2136.1,2011.7 L2142.2,2014.8 L2145.8,2017.2 L2149.8,2011.7 L2151.3,1999.6 L2157.4,1999.0 L2165.0,1999.6 L2166.5,1985.9 L2172.6,1982.0 L2177.1,1982.9 L2181.7,1996.5 L2187.7,1995.0 L2194.4,1992.9 L2196.9,2020.8 L2200.5,2023.9 L2201.4,1641.3 L2206.0,1648.8 L2212.0,1650.4 L2218.1,1649.8 L2224.2,1647.3 L2231.8,1643.7 L2233.3,2011.7 L2240.9,2005.0 L2247.0,2008.7 L2253.0,2008.1 L2259.1,2013.2 L2263.7,2014.8 L2265.2,2025.4 L2268.2,2020.8 L2272.8,2026.3 L2278.8,2023.9 L2286.4,2022.3 L2292.5,2023.3 L2295.5,2007.2 L2298.6,2008.7 L2301.6,2014.8 L2306.2,2003.2 L2311.6,2001.1 L2314.7,1996.5 L2319.8,1989.9 L2323.8,1996.5 L2328.0,1991.1 L2332.9,1990.5 L2336.5,2001.1 L2341.1,1993.5 L2346.3,1987.4 L2351.1,1985.9 L2354.8,1988.0 L2357.2,1979.8 L2360.2,1992.0 L2364.5,1993.5 L2368.4,1984.4 L2372.4,1993.5 L2376.6,1999.0 L2380.6,2005.0 L2385.1,2003.2 L2389.7,2010.2 L2394.2,2012.3 L2398.8,2014.8 L2402.7,2025.4 L2409.4,2025.4 L2415.5,2022.3 L2423.1,2021.4 L2424.6,2014.8 L2430.7,2017.8 L2438.3,2016.3 L2444.3,2014.8 L2449.5,2017.8 L2455.0,2018.4 L2456.5,2029.9 L2464.1,2026.9 L2473.2,2028.4 L2479.9,2030.5 L2484.8,2027.5 L2489.8,2025.5 L2492.3,2020.5 L2496.0,2003.1 L2499.8,1985.7 L2501.0,1969.6 L2506.0,1959.6 L2509.7,1953.4 L2513.4,1947.2 L2516.6,1946.0 L2519.1,1942.2 L2522.1,1944.7 L2524.1,1946.0 L2526.6,1955.9 L2530.8,1959.6 L2532.5,1982.0 L2537.0,1980.7 L2540.0,1983.2 L2542.5,1989.4 L2545.7,1982.0 L2548.2,1979.5 L2551.9,1983.2 L2555.7,1985.7 L2559.4,1990.7 L2562.4,1998.1 L2564.8,1996.9 L2566.3,1978.3 L2569.3,1982.0 L2571.3,1969.6 L2574.3,1968.3 L2576.8,1978.3 L2578.8,1982.0 L2583.0,1980.7 L2586.7,1982.0 L2590.4,1979.5 L2595.4,1979.5 L2596.6,2003.1 L2599.1,2008.1 L2601.6,2008.1 L2602.9,2020.5 L2606.6,2023.0 L2610.3,2022.5 L2612.8,2025.5 L2616.0,2023.0 L2619.0,2023.0 L2621.5,2014.3 L2624.0,2010.6 L2627.7,2009.3 L2630.2,2005.6 L2633.9,2006.8 L2637.6,2003.1 L2640.1,1999.4 L2641.9,1994.4 L2645.1,1995.7 L2648.3,1995.7 L2650.8,1996.9 L2653.3,2010.6 L2657.5,2008.1 L2660.0,2010.6 L2662.5,2003.1 L2666.2,2004.3 L2669.9,2003.1 L2672.4,2010.6 L2678.6,2010.6 L2681.1,2011.8 L2683.1,2005.6 L2684.1,1975.8 L2688.6,1974.5 L2693.5,1975.3 L2696.0,1973.3 L2698.0,1964.6 L2701.0,1968.3 L2704.7,1967.1 L2708.4,1968.3 L2711.4,1963.4 L2713.9,1959.6 L2715.4,2000.6 L2719.6,1996.9 L2723.4,1998.1 L2726.3,1990.7 L2727.8,1978.3 L2730.3,1989.4 L2732.8,1983.2 L2735.8,1982.0 L2739.5,1982.0 L2743.2,1987.0 L2745.7,1989.4 L2748.2,1995.7 L2751.9,1989.4 L2755.2,1984.5 L2757.6,1990.7 L2759.4,2006.8 L2762.6,2006.8 L2765.6,2005.6 L2768.1,2010.1 L2772.5,2009.3 L2775.5,2010.1 L2779.3,1996.9 L2781.7,1988.2 L2785.0,1982.0 L2787.5,1988.2 L2790.4,1989.4 L2792.4,1968.3 L2794.2,1948.4 L2795.9,1913.7 L2799.1,1911.2 L2802.4,1912.4 L2805.3,1909.9 L2807.8,1911.2 L2810.3,1918.6 L2813.3,1931.1 L2815.8,1937.3 L2819.0,1931.1 L2822.2,1928.6 L2824.0,1955.9 L2826.5,1980.7 L2828.2,2006.8 L2831.4,2010.6 L2834.7,2005.6 L2837.6,1998.1 L2841.4,1995.7 L2844.6,1991.9 L2848.1,1988.2 L2850.1,1993.2 L2852.5,1996.9 L2856.3,1995.7 L2859.5,1998.1 L2862.5,1995.7 L2866.2,1995.7 L2868.7,2005.6 L2871.2,2010.6 L2874.4,2010.1 L2877.4,2014.3 L2881.1,2014.3 L2883.6,2003.1 L2886.1,1983.2 L2889.3,1978.3 L2891.1,1969.6 L2894.3,1968.3 L2897.8,1964.6 L2901.0,1960.9 L2904.7,1953.9 L2908.4,1953.9 L2911.7,1955.9 L2914.2,1963.4 L2916.6,1955.9 L2918.4,1973.3 L2920.9,1957.1 L2924.1,1968.3 L2927.1,1977.0 L2930.1,1964.6 L2933.3,1970.8 L2936.5,1978.3 L2939.5,1972.0 L2943.2,1969.6 L2945.7,1980.7 L2948.2,1970.8 L2951.4,1990.7 L2954.4,1989.4 L2956.9,1978.3 L2959.9,1987.0 L2963.1,1985.7 L2966.3,1990.7 L2969.3,1993.2 L2971.8,1998.1 L2975.5,1996.9 L2980.0,1998.1 L2981.1,1994.4 L2983.6,2004.3 L2984.8,1988.2 L2986.1,1927.3 L2988.6,1911.2 L2991.1,1908.7 L2993.5,1893.8 L2996.0,1878.9 L2999.3,1871.4 L3001.7,1860.2 L3004.2,1856.5 L3007.2,1852.8 L3009.2,1821.7 L3010.9,1785.7 L3012.7,1784.5 L3014.2,1767.1 L3017.1,1772.0 L3017.6,1809.3 L3018.4,1845.3 L3019.6,1864.0 L3021.6,1864.0 L3024.1,1873.9 L3027.1,1888.8 L3030.8,1902.5 L3034.0,1912.4 L3037.5,1917.4 L3039.5,1936.0 L3041.5,1969.6 L3042.5,1982.0 L3044.5,1983.2 L3047.0,1998.1 L3048.9,2005.6 L3051.9,2000.6 L3053.9,1996.9 L3056.9,2004.3 L3059.4,2000.6 L3063.1,2001.9 L3066.3,2003.1 L3067.3,1975.8 L3070.6,1984.5 L3073.0,1978.3 L3075.5,1969.6 L3078.8,1970.8 L3082.2,1973.3 L3085.5,1975.8 L3088.0,1958.4 L3091.2,1955.9 L3094.7,1954.7 L3096.1,1944.7 L3097.9,1943.5 L3099.1,1972.0 L3102.9,1969.6 L3105.3,1967.1 L3107.8,1980.7 L3110.3,1970.8 L3112.0,1944.7 L3114.0,1936.0 L3117.0,1938.5 L3120.2,1946.0 L3123.5,1938.5 L3126.5,1947.2 L3130.2,1950.9 L3133.4,1938.5 L3136.4,1932.3 L3137.6,1905.0 L3140.1,1907.5 L3141.9,1931.1 L3145.1,1923.6 L3147.6,1924.8 L3150.1,1913.7 L3151.8,1898.8 L3155.0,1892.5 L3157.5,1896.3 L3160.0,1891.3 L3162.5,1896.3 L3165.0,1897.5 L3166.2,1911.2 L3168.2,1906.2 L3169.2,1938.5 L3172.4,1923.6 L3174.2,1938.5 L3176.1,1911.2 L3178.6,1909.9 L3181.1,1929.8 L3183.6,1942.2 L3187.3,1953.4 L3191.1,1952.2 L3194.8,1947.2 L3197.3,1933.5 L3199.8,1948.4 L3201.5,1933.5 L3203.5,1946.0 L3206.5,1941.0 L3208.0,1969.6 L3210.9,1972.0 L3213.4,1967.1 L3217.1,1965.8 L3219.6,1958.4 L3222.9,1958.4 L3225.3,1918.6 L3227.1,1914.9 L3229.6,1927.3 L3232.0,1923.6 L3233.8,1906.2 L3237.0,1905.0 L3240.2,1902.5 L3242.0,1895.0 L3245.2,1896.3 L3247.7,1873.9 L3249.4,1834.2 L3251.2,1814.3 L3253.2,1813.0 L3254.4,1774.5 L3255.7,1753.4 L3259.4,1752.2 L3260.6,1712.4 L3263.1,1709.9 L3264.3,1700.0 L3264.4,1675.8 L3264.8,1650.9 L3266.8,1648.4 L3267.8,1459.6 L3269.8,1447.2 L3271.0,1437.3 L3273.5,1449.7 L3276.0,1431.1 L3278.4,1432.3 L3279.7,1457.1 L3281.7,1470.8 L3282.7,1424.8 L3284.0,1348.0 L3284.6,1300.0 L3285.7,1208.0 L3287.8,1207.0 L3289.0,1222.0 L3290.0,1164.0 L3291.5,1163.0 L3292.5,1159.0 L3295.0,1158.5 L3295.4,1215.0 L3296.4,1215.0 L3297.2,1177.0 L3298.8,1177.0 L3299.0,1250.0 L3299.3,1330.0 L3300.5,1372.0 L3304.5,1389.0 L3306.5,1371.0 L3308.3,1363.0 L3310.0,1356.0 L3311.0,1274.0 L3312.5,1271.4 L3314.0,1286.0 L3314.5,1348.0 L3315.7,1423.0 L3316.0,1424.8 L3316.5,1494.4 L3317.0,1593.8 L3319.4,1606.2 L3321.4,1624.8 L3323.9,1631.1 L3325.7,1655.9 L3327.4,1688.2 L3330.6,1675.8 L3334.3,1679.5 L3336.3,1694.4 L3338.8,1695.7 L3339.8,1718.0 L3341.3,1628.6 L3343.8,1623.6 L3344.8,1744.1 L3346.8,1749.1 L3349.3,1740.4 L3350.5,1701.9 L3353.0,1696.9 L3355.5,1716.8 L3358.0,1728.0 L3360.4,1735.4 L3362.2,1705.6 L3363.7,1670.8 L3366.1,1636.0 L3368.6,1639.8 L3370.4,1643.5 L3371.6,1730.4 L3375.3,1736.6 L3377.1,1720.5 L3379.1,1708.1 L3379.8,1611.2 L3381.1,1611.2 L3382.0,1650.9 L3384.0,1703.1 L3386.0,1680.7 L3388.5,1693.2 L3390.2,1680.7 L3392.7,1689.4 L3394.5,1734.2 L3396.0,1685.7 L3398.4,1703.1 L3400.2,1695.7 L3401.4,1658.4 L3403.9,1668.3 L3405.9,1648.4 L3408.4,1642.2 L3410.9,1650.9 L3411.9,1723.0 L3412.6,1750.3 L3415.1,1723.0 L3417.6,1720.5 L3419.3,1742.9 L3420.8,1723.0 L3421.8,1678.3 L3423.8,1673.3 L3425.0,1608.7 L3426.8,1608.7 L3427.5,1675.8 L3430.0,1638.5 L3432.5,1628.6 L3435.0,1618.6 L3436.7,1588.8 L3438.7,1587.6 L3440.7,1606.2 L3443.2,1578.9 L3444.9,1541.6 L3447.4,1549.1 L3449.9,1472.0 L3452.4,1474.5 L3453.6,1453.4 L3455.6,1453.4 L3456.6,1515.5 L3458.6,1474.5 L3460.6,1452.2 L3462.3,1452.2 L3463.5,1509.3 L3467.3,1508.1 L3468.5,1531.7 L3471.0,1521.7 L3473.5,1504.3 L3476.0,1503.1 L3477.2,1539.1 L3479.7,1571.4 L3482.2,1611.2 L3483.4,1653.4 L3485.4,1683.2 L3487.9,1668.3 L3489.6,1680.7 L3491.4,1711.8 L3492.9,1648.4 L3495.8,1646.0 L3497.8,1668.3 L3500.3,1663.4 L3502.0,1623.6 L3503.8,1622.4 L3505.3,1665.8 L3507.8,1636.0 L3509.5,1606.2 L3511.2,1586.3 L3513.7,1578.9 L3515.7,1516.8 L3517.7,1487.0 L3519.4,1441.0 L3521.9,1489.4 L3523.7,1437.3 L3525.7,1494.4 L3527.6,1469.6 L3529.4,1434.8 L3531.9,1426.1 L3533.6,1477.0 L3535.6,1464.6 L3538.1,1446.0 L3540.6,1464.6 L3543.5,1452.2 L3546.0,1457.1 L3547.5,1500.6 L3549.3,1539.1 L3551.0,1583.9 L3553.5,1607.5 L3555.0,1519.3 L3557.5,1534.2 L3559.2,1561.5 L3561.7,1535.4 L3564.2,1539.1 L3566.6,1529.2 L3568.4,1549.1 L3570.4,1524.2 L3572.4,1582.6 L3574.1,1549.1 L3575.8,1487.0 L3578.3,1482.0 L3579.8,1424.8 L3580.6,1423.0 L3582.4,1361.0 L3583.1,1338.5 L3586.3,1338.5 L3586.8,1440.4 L3589.3,1360.9 L3593.0,1360.9 L3593.8,1401.9 L3595.5,1298.8 L3596.8,1244.1 L3600.5,1244.1 L3601.0,1259.0 L3601.7,1174.5 L3602.2,1100.0 L3603.0,1030.8 L3606.7,1030.8 L3607.2,1105.3 L3609.2,968.7 L3612.9,968.7 L3614.2,1034.5 L3616.1,909.1 L3619.1,907.8 L3619.6,888.0 L3622.1,888.0 L3622.6,906.6 L3623.8,760.0 L3627.3,396.5 L3628.6,455.0" fill="none" stroke="#4c35de" stroke-width="4.7" stroke-linejoin="miter" stroke-miterlimit="4"/>
<path d="M400.7,2048.6 L402.8,2048.6 L404.8,2048.6 L406.9,2048.6 L409.0,2048.5 L411.1,2048.5 L413.1,2048.5 L415.2,2048.5 L417.3,2048.5 L419.4,2048.5 L421.4,2048.5 L423.5,2048.5 L425.6,2048.5 L427.7,2048.5 L429.7,2048.5 L431.8,2048.5 L433.9,2048.5 L436.0,2048.5 L438.0,2048.5 L440.1,2048.5 L442.2,2048.5 L444.3,2048.5 L446.3,2048.5 L448.4,2048.4 L450.5,2048.4 L452.6,2048.4 L454.6,2048.4 L456.7,2048.4 L458.8,2048.4 L460.9,2048.4 L462.9,2048.4 L465.0,2048.4 L467.1,2048.4 L469.2,2048.4 L471.2,2048.4 L473.3,2048.4 L475.4,2048.4 L477.5,2048.4 L479.5,2048.4 L481.6,2048.4 L483.7,2048.4 L485.8,2048.4 L487.8,2048.4 L489.9,2048.3 L492.0,2048.3 L494.0,2048.3 L496.1,2048.3 L498.2,2048.3 L500.3,2048.3 L502.3,2048.3 L504.4,2048.3 L506.5,2048.3 L508.6,2048.3 L510.6,2048.3 L512.7,2048.3 L514.8,2048.3 L516.9,2048.3 L518.9,2048.3 L521.0,2048.3 L523.1,2048.3 L525.2,2048.3 L527.2,2048.3 L529.3,2048.2 L531.4,2048.2 L533.5,2048.2 L535.5,2048.2 L537.6,2048.2 L539.7,2048.2 L541.8,2048.2 L543.8,2048.2 L545.9,2048.2 L548.0,2048.2 L550.1,2048.2 L552.1,2048.2 L554.2,2048.2 L556.3,2048.2 L558.4,2048.2 L560.4,2048.2 L562.5,2048.2 L564.6,2048.2 L566.7,2048.2 L568.7,2048.2 L570.8,2048.1 L572.9,2048.1 L574.9,2048.1 L577.0,2048.1 L579.1,2048.1 L581.2,2048.1 L583.2,2048.1 L585.3,2048.1 L587.4,2048.1 L589.5,2048.1 L591.5,2048.1 L593.6,2048.1 L595.7,2048.1 L597.8,2048.1 L599.8,2047.9 L601.9,2047.8 L604.0,2047.7 L606.1,2047.5 L608.1,2047.4 L610.2,2047.3 L612.3,2047.1 L614.4,2047.0 L616.4,2046.9 L618.5,2046.7 L620.6,2046.6 L622.7,2046.5 L624.7,2046.3 L626.8,2046.2 L628.9,2046.1 L631.0,2046.1 L633.0,2046.1 L635.1,2046.2 L637.2,2046.2 L639.3,2046.3 L641.3,2046.4 L643.4,2046.4 L645.5,2046.5 L647.6,2046.6 L649.6,2046.7 L651.7,2046.8 L653.8,2046.9 L655.9,2046.9 L657.9,2047.0 L660.0,2047.1 L662.1,2047.2 L664.1,2047.2 L666.2,2047.3 L668.3,2047.3 L670.4,2047.4 L672.4,2047.4 L674.5,2047.4 L676.6,2047.4 L678.7,2047.4 L680.7,2047.4 L682.8,2047.5 L684.9,2047.5 L687.0,2047.5 L689.0,2047.5 L691.1,2047.5 L693.2,2047.6 L695.3,2047.6 L697.3,2047.6 L699.4,2047.6 L701.5,2047.3 L703.6,2046.9 L705.6,2046.5 L707.7,2046.0 L709.8,2045.6 L711.9,2045.1 L713.9,2044.7 L716.0,2044.2 L718.1,2043.8 L720.2,2043.3 L722.2,2042.8 L724.3,2042.4 L726.4,2041.9 L728.5,2041.4 L730.5,2040.9 L732.6,2040.9 L734.7,2041.4 L736.8,2041.8 L738.8,2042.3 L740.9,2042.7 L743.0,2043.2 L745.1,2043.7 L747.1,2044.1 L749.2,2044.6 L751.3,2045.1 L753.3,2045.6 L755.4,2046.1 L757.5,2046.5 L759.6,2047.0 L761.6,2047.5 L763.7,2047.9 L765.8,2047.9 L767.9,2047.9 L769.9,2047.9 L772.0,2048.0 L774.1,2048.0 L776.2,2048.0 L778.2,2048.0 L780.3,2048.0 L782.4,2048.0 L784.5,2048.0 L786.5,2048.1 L788.6,2048.1 L790.7,2048.1 L792.8,2048.1 L794.8,2048.1 L796.9,2048.1 L799.0,2048.2 L801.1,2048.2 L803.1,2048.2 L805.2,2048.2 L807.3,2048.2 L809.4,2048.2 L811.4,2048.2 L813.5,2048.2 L815.6,2048.2 L817.7,2048.2 L819.7,2048.1 L821.8,2048.1 L823.9,2048.1 L826.0,2048.0 L828.0,2048.0 L830.1,2047.9 L832.2,2047.8 L834.2,2047.8 L836.3,2047.7 L838.4,2047.6 L840.5,2047.5 L842.5,2047.5 L844.6,2047.4 L846.7,2047.3 L848.8,2047.2 L850.8,2047.2 L852.9,2047.1 L855.0,2047.0 L857.1,2047.0 L859.1,2047.0 L861.2,2046.9 L863.3,2046.9 L865.4,2046.9 L867.4,2046.9 L869.5,2046.9 L871.6,2046.9 L873.7,2047.0 L875.7,2047.0 L877.8,2047.1 L879.9,2047.1 L882.0,2047.2 L884.0,2047.3 L886.1,2047.3 L888.2,2047.4 L890.3,2047.4 L892.3,2047.5 L894.4,2047.5 L896.5,2047.5 L898.6,2047.5 L900.6,2047.5 L902.7,2047.5 L904.8,2047.5 L906.9,2047.5 L908.9,2047.5 L911.0,2047.5 L913.1,2047.4 L915.2,2047.4 L917.2,2047.3 L919.3,2047.3 L921.4,2047.2 L923.4,2047.2 L925.5,2047.2 L927.6,2047.1 L929.7,2047.1 L931.7,2047.1 L933.8,2047.1 L935.9,2047.1 L938.0,2047.1 L940.0,2047.1 L942.1,2047.1 L944.2,2047.1 L946.3,2047.1 L948.3,2047.1 L950.4,2047.1 L952.5,2047.2 L954.6,2047.2 L956.6,2047.2 L958.7,2047.2 L960.8,2047.3 L962.9,2047.3 L964.9,2047.3 L967.0,2047.3 L969.1,2047.3 L971.2,2047.3 L973.2,2047.3 L975.3,2047.3 L977.4,2047.3 L979.5,2047.3 L981.5,2047.3 L983.6,2047.0 L985.7,2046.8 L987.8,2046.5 L989.8,2046.3 L991.9,2045.9 L994.0,2045.1 L996.1,2044.2 L998.1,2043.3 L1000.2,2042.3 L1002.3,2041.3 L1004.4,2040.2 L1006.4,2039.2 L1008.5,2038.1 L1010.6,2036.5 L1012.6,2034.9 L1014.7,2033.4 L1016.8,2032.2 L1018.9,2031.1 L1020.9,2030.0 L1023.0,2029.0 L1025.1,2028.5 L1027.2,2028.4 L1029.2,2028.5 L1031.3,2028.3 L1033.4,2028.2 L1035.5,2028.1 L1037.5,2027.9 L1039.6,2027.7 L1041.7,2028.4 L1043.8,2029.4 L1045.8,2030.4 L1047.9,2031.3 L1050.0,2031.9 L1052.1,2032.5 L1054.1,2032.7 L1056.2,2032.4 L1058.3,2031.9 L1060.4,2031.3 L1062.4,2031.0 L1064.5,2031.1 L1066.6,2031.3 L1068.7,2031.5 L1070.7,2031.7 L1072.8,2031.6 L1074.9,2031.2 L1077.0,2030.8 L1079.0,2030.5 L1081.1,2027.7 L1083.2,2024.9 L1085.3,2022.6 L1087.3,2021.2 L1089.4,2019.8 L1091.5,2018.4 L1093.5,2016.9 L1095.6,2015.1 L1097.7,2013.1 L1099.8,2011.2 L1101.8,2009.3 L1103.9,2007.4 L1106.0,2005.5 L1108.1,2003.6 L1110.1,2001.7 L1112.2,2003.0 L1114.3,2005.7 L1116.4,2008.3 L1118.4,2010.4 L1120.5,2012.5 L1122.6,2014.7 L1124.7,2016.7 L1126.7,2018.6 L1128.8,2020.6 L1130.9,2022.6 L1133.0,2024.5 L1135.0,2026.5 L1137.1,2028.4 L1139.2,2030.3 L1141.3,2032.2 L1143.3,2033.7 L1145.4,2034.2 L1147.5,2034.7 L1149.6,2034.7 L1151.6,2034.6 L1153.7,2034.8 L1155.8,2035.5 L1157.9,2036.3 L1159.9,2037.0 L1162.0,2037.8 L1164.1,2038.6 L1166.2,2039.4 L1168.2,2040.3 L1170.3,2041.1 L1172.4,2041.9 L1174.5,2042.2 L1176.5,2042.3 L1178.6,2042.5 L1180.7,2043.1 L1182.7,2043.7 L1184.8,2043.9 L1186.9,2042.1 L1189.0,2039.9 L1191.0,2037.7 L1193.1,2035.5 L1195.2,2033.2 L1197.3,2030.9 L1199.3,2028.5 L1201.4,2026.2 L1203.5,2023.9 L1205.6,2021.4 L1207.6,2018.8 L1209.7,2016.2 L1211.8,2013.6 L1213.9,2011.0 L1215.9,2008.4 L1218.0,2008.5 L1220.1,2010.2 L1222.2,2012.0 L1224.2,2013.7 L1226.3,2015.5 L1228.4,2017.4 L1230.5,2019.2 L1232.5,2021.0 L1234.6,2022.9 L1236.7,2025.2 L1238.8,2027.7 L1240.8,2030.2 L1242.9,2032.7 L1245.0,2033.3 L1247.1,2033.1 L1249.1,2031.9 L1251.2,2029.5 L1253.3,2027.0 L1255.4,2024.6 L1257.4,2022.1 L1259.5,2019.7 L1261.6,2017.3 L1263.7,2014.9 L1265.7,2012.5 L1267.8,2009.8 L1269.9,2007.1 L1271.9,2004.4 L1274.0,2001.6 L1276.1,2000.8 L1278.2,2002.6 L1280.2,2005.4 L1282.3,2008.2 L1284.4,2011.0 L1286.5,2013.6 L1288.5,2016.3 L1290.6,2018.8 L1292.7,2021.4 L1294.8,2023.8 L1296.8,2026.0 L1298.9,2027.9 L1301.0,2029.7 L1303.1,2031.6 L1305.1,2033.4 L1307.2,2035.1 L1309.3,2034.9 L1311.4,2033.7 L1313.4,2032.6 L1315.5,2031.5 L1317.6,2030.5 L1319.7,2029.4 L1321.7,2028.4 L1323.8,2027.5 L1325.9,2026.9 L1328.0,2026.4 L1330.0,2026.4 L1332.1,2026.5 L1334.2,2026.7 L1336.3,2027.1 L1338.3,2027.6 L1340.4,2028.6 L1342.5,2029.6 L1344.6,2030.7 L1346.6,2031.5 L1348.7,2032.4 L1350.8,2033.3 L1352.8,2034.3 L1354.9,2035.2 L1357.0,2036.3 L1359.1,2037.3 L1361.1,2038.3 L1363.2,2039.2 L1365.3,2039.9 L1367.4,2040.5 L1369.4,2041.1 L1371.5,2041.4 L1373.6,2041.6 L1375.7,2041.9 L1377.7,2042.3 L1379.8,2042.7 L1381.9,2043.2 L1384.0,2043.6 L1386.0,2043.8 L1388.1,2043.9 L1390.2,2043.9 L1392.3,2043.9 L1394.3,2043.8 L1396.4,2043.7 L1398.5,2043.5 L1400.6,2043.3 L1402.6,2043.0 L1404.7,2042.8 L1406.8,2042.6 L1408.9,2042.4 L1410.9,2042.2 L1413.0,2041.8 L1415.1,2041.3 L1417.2,2040.8 L1419.2,2040.6 L1421.3,2040.4 L1423.4,2039.7 L1425.5,2038.5 L1427.5,2037.4 L1429.6,2036.2 L1431.7,2035.1 L1433.8,2033.9 L1435.8,2032.8 L1437.9,2031.6 L1440.0,2030.3 L1442.0,2028.9 L1444.1,2027.3 L1446.2,2025.8 L1448.3,2024.3 L1450.3,2022.6 L1452.4,2021.0 L1454.5,2020.2 L1456.6,2020.2 L1458.6,2020.3 L1460.7,2020.7 L1462.8,2021.1 L1464.9,2021.5 L1466.9,2021.9 L1469.0,2022.3 L1471.1,2022.6 L1473.2,2023.0 L1475.2,2023.8 L1477.3,2024.8 L1479.4,2026.1 L1481.5,2027.4 L1483.5,2028.7 L1485.6,2029.5 L1487.7,2029.8 L1489.8,2030.0 L1491.8,2029.7 L1493.9,2029.2 L1496.0,2028.7 L1498.1,2028.3 L1500.1,2028.1 L1502.2,2027.9 L1504.3,2027.8 L1506.4,2027.5 L1508.4,2027.0 L1510.5,2026.3 L1512.6,2025.5 L1514.7,2024.4 L1516.7,2023.6 L1518.8,2023.2 L1520.9,2023.1 L1523.0,2023.8 L1525.0,2024.7 L1527.1,2025.6 L1529.2,2026.4 L1531.2,2027.1 L1533.3,2027.7 L1535.4,2028.5 L1537.5,2029.4 L1539.5,2030.2 L1541.6,2031.1 L1543.7,2032.1 L1545.8,2033.3 L1547.8,2034.6 L1549.9,2035.6 L1552.0,2036.2 L1554.1,2036.4 L1556.1,2036.5 L1558.2,2036.7 L1560.3,2037.0 L1562.4,2037.3 L1564.4,2037.7 L1566.5,2038.1 L1568.6,2038.7 L1570.7,2039.2 L1572.7,2039.7 L1574.8,2040.1 L1576.9,2040.5 L1579.0,2040.6 L1581.0,2040.8 L1583.1,2041.1 L1585.2,2041.3 L1587.3,2041.5 L1589.3,2041.5 L1591.4,2041.4 L1593.5,2041.3 L1595.6,2041.1 L1597.6,2040.8 L1599.7,2040.4 L1601.8,2040.0 L1603.9,2039.7 L1605.9,2039.4 L1608.0,2039.2 L1610.1,2039.0 L1612.1,2038.8 L1614.2,2038.6 L1616.3,2038.3 L1618.4,2038.0 L1620.4,2038.0 L1622.5,2038.2 L1624.6,2038.4 L1626.7,2038.6 L1628.7,2038.8 L1630.8,2039.0 L1632.9,2039.1 L1635.0,2039.3 L1637.0,2039.4 L1639.1,2039.4 L1641.2,2039.4 L1643.3,2039.5 L1645.3,2039.4 L1647.4,2039.4 L1649.5,2039.6 L1651.6,2039.6 L1653.6,2039.5 L1655.7,2039.4 L1657.8,2039.0 L1659.9,2038.6 L1661.9,2038.2 L1664.0,2037.9 L1666.1,2037.5 L1668.2,2037.3 L1670.2,2037.0 L1672.3,2036.8 L1674.4,2036.6 L1676.5,2036.6 L1678.5,2036.4 L1680.6,2036.1 L1682.7,2035.7 L1684.8,2035.3 L1686.8,2035.0 L1688.9,2035.1 L1691.0,2035.2 L1693.1,2035.2 L1695.1,2035.3 L1697.2,2035.4 L1699.3,2035.4 L1701.3,2035.3 L1703.4,2035.1 L1705.5,2034.8 L1707.6,2034.6 L1709.6,2034.4 L1711.7,2034.4 L1713.8,2034.7 L1715.9,2034.9 L1717.9,2035.1 L1720.0,2035.2 L1722.1,2035.4 L1724.2,2035.5 L1726.2,2035.5 L1728.3,2035.5 L1730.4,2026.0 L1732.5,2007.0 L1734.5,1988.4 L1736.6,1970.0 L1738.7,1951.2 L1740.8,1932.1 L1742.8,1912.9 L1744.9,1893.5 L1747.0,1873.9 L1749.1,1854.3 L1751.1,1834.6 L1753.2,1814.8 L1755.3,1795.0 L1757.4,1775.2 L1759.4,1755.3 L1761.5,1754.2 L1763.6,1772.2 L1765.7,1790.0 L1767.7,1807.6 L1769.8,1825.6 L1771.9,1844.4 L1774.0,1863.2 L1776.0,1881.9 L1778.1,1900.8 L1780.2,1919.8 L1782.3,1939.1 L1784.3,1957.8 L1786.4,1976.4 L1788.5,1995.1 L1790.5,2014.0 L1792.6,2023.0 L1794.7,2022.4 L1796.8,2021.6 L1798.8,2020.5 L1800.9,2019.0 L1803.0,2016.9 L1805.1,2014.5 L1807.1,2012.0 L1809.2,2008.9 L1811.3,2005.0 L1813.4,2000.9 L1815.4,1997.6 L1817.5,1994.6 L1819.6,1991.7 L1821.7,1988.7 L1823.7,1986.6 L1825.8,1985.0 L1827.9,1983.7 L1830.0,1982.6 L1832.0,1981.9 L1834.1,1981.8 L1836.2,1982.2 L1838.3,1983.0 L1840.3,1985.4 L1842.4,1988.4 L1844.5,1991.3 L1846.6,1994.2 L1848.6,1997.0 L1850.7,1999.7 L1852.8,2002.2 L1854.9,2004.4 L1856.9,2006.5 L1859.0,2008.6 L1861.1,2010.9 L1863.2,2012.9 L1865.2,2014.5 L1867.3,2015.9 L1869.4,2016.9 L1871.4,2016.9 L1873.5,2017.2 L1875.6,2018.0 L1877.7,2018.6 L1879.7,2019.0 L1881.8,2019.5 L1883.9,2019.9 L1886.0,2020.4 L1888.0,2020.7 L1890.1,2021.1 L1892.2,2021.3 L1894.3,2021.6 L1896.3,2022.1 L1898.4,2022.8 L1900.5,2023.5 L1902.6,2024.2 L1904.6,2024.8 L1906.7,2024.6 L1908.8,2024.4 L1910.9,2024.6 L1912.9,2024.8 L1915.0,2025.0 L1917.1,2025.1 L1919.2,2025.2 L1921.2,2025.2 L1923.3,2025.2 L1925.4,2025.0 L1927.5,2024.2 L1929.5,2022.8 L1931.6,2021.2 L1933.7,2019.6 L1935.8,2018.2 L1937.8,2016.8 L1939.9,2014.6 L1942.0,2011.3 L1944.1,2007.8 L1946.1,2004.4 L1948.2,2000.9 L1950.3,1997.3 L1952.4,1993.7 L1954.4,1990.1 L1956.5,1986.8 L1958.6,1984.3 L1960.6,1982.8 L1962.7,1982.0 L1964.8,1981.2 L1966.9,1980.4 L1968.9,1979.8 L1971.0,1980.5 L1973.1,1983.6 L1975.2,1987.3 L1977.2,1991.1 L1979.3,1994.9 L1981.4,1999.0 L1983.5,2003.1 L1985.5,2007.2 L1987.6,2011.2 L1989.7,2014.8 L1991.8,2017.8 L1993.8,2020.4 L1995.9,2023.0 L1998.0,2025.9 L2000.1,2028.7 L2002.1,2031.2 L2004.2,2032.3 L2006.3,2026.3 L2008.4,2010.4 L2010.4,1994.6 L2012.5,1978.7 L2014.6,1962.7 L2016.7,1946.8 L2018.7,1930.9 L2020.8,1915.0 L2022.9,1899.1 L2025.0,1883.2 L2027.0,1867.1 L2029.1,1850.9 L2031.2,1834.5 L2033.3,1818.0 L2035.3,1801.5 L2037.4,1791.6 L2039.5,1807.6 L2041.6,1823.5 L2043.6,1839.4 L2045.7,1855.2 L2047.8,1871.1 L2049.8,1887.1 L2051.9,1903.1 L2054.0,1919.2 L2056.1,1935.3 L2058.1,1951.4 L2060.2,1967.5 L2062.3,1983.7 L2064.4,1999.9 L2066.4,2016.3 L2068.5,2032.7 L2070.6,2032.7 L2072.7,2032.7 L2074.7,2032.7 L2076.8,2032.7 L2078.9,2032.7 L2081.0,2032.6 L2083.0,2032.5 L2085.1,2031.6 L2087.2,2030.6 L2089.3,2029.6 L2091.3,2028.6 L2093.4,2027.4 L2095.5,2026.1 L2097.6,2024.7 L2099.6,2023.3 L2101.7,2022.2 L2103.8,2021.3 L2105.9,2020.4 L2107.9,2019.4 L2110.0,2018.3 L2112.1,2016.9 L2114.2,2015.5 L2116.2,2015.2 L2118.3,2015.2 L2120.4,2015.2 L2122.5,2015.2 L2124.5,2015.2 L2126.6,2015.4 L2128.7,2015.4 L2130.7,2015.4 L2132.8,2015.3 L2134.9,2015.1 L2137.0,2014.7 L2139.0,2014.4 L2141.1,2014.5 L2143.2,2014.8 L2145.3,2015.2 L2147.3,2015.2 L2149.4,2014.9 L2151.5,2014.0 L2153.6,2012.8 L2155.6,2011.6 L2157.7,2010.5 L2159.8,2009.4 L2161.9,2008.4 L2163.9,2007.4 L2166.0,2006.2 L2168.1,2004.4 L2170.2,2002.4 L2172.2,2000.3 L2174.3,1998.1 L2176.4,1995.9 L2178.5,1993.9 L2180.5,1992.4 L2182.6,1992.0 L2184.7,1991.8 L2186.8,1991.5 L2188.8,1991.2 L2190.9,1990.9 L2193.0,1990.5 L2195.1,1990.3 L2197.1,1991.8 L2199.2,1994.2 L2201.3,1986.0 L2203.4,1963.4 L2205.4,1941.0 L2207.5,1918.8 L2209.6,1896.4 L2211.7,1873.6 L2213.7,1850.6 L2215.8,1827.5 L2217.9,1804.5 L2219.9,1781.4 L2222.0,1758.4 L2224.1,1735.3 L2226.2,1712.0 L2228.2,1687.3 L2230.3,1662.1 L2232.4,1652.7 L2234.5,1677.2 L2236.5,1701.4 L2238.6,1725.3 L2240.7,1749.0 L2242.8,1772.7 L2244.8,1796.5 L2246.9,1820.4 L2249.0,1844.3 L2251.1,1868.2 L2253.1,1892.2 L2255.2,1916.4 L2257.3,1940.7 L2259.4,1965.2 L2261.4,1989.8 L2263.5,2009.5 L2265.6,2010.2 L2267.7,2011.1 L2269.7,2012.1 L2271.8,2013.4 L2273.9,2014.7 L2276.0,2015.9 L2278.0,2017.0 L2280.1,2018.0 L2282.2,2019.0 L2284.3,2020.0 L2286.3,2020.8 L2288.4,2021.6 L2290.5,2022.2 L2292.6,2022.9 L2294.6,2022.9 L2296.7,2021.9 L2298.8,2020.9 L2300.9,2020.3 L2302.9,2019.5 L2305.0,2018.3 L2307.1,2016.8 L2309.1,2015.3 L2311.2,2013.8 L2313.3,2012.2 L2315.4,2010.5 L2317.4,2008.5 L2319.5,2006.4 L2321.6,2004.4 L2323.7,2002.5 L2325.7,2001.2 L2327.8,2000.2 L2329.9,1999.0 L2332.0,1997.5 L2334.0,1996.2 L2336.1,1995.6 L2338.2,1995.3 L2340.3,1994.9 L2342.3,1994.3 L2344.4,1993.7 L2346.5,1993.1 L2348.6,1992.7 L2350.6,1992.3 L2352.7,1992.0 L2354.8,1991.5 L2356.9,1990.7 L2358.9,1990.2 L2361.0,1990.2 L2363.1,1990.4 L2365.2,1990.4 L2367.2,1989.7 L2369.3,1988.8 L2371.4,1988.4 L2373.5,1988.5 L2375.5,1989.0 L2377.6,1989.8 L2379.7,1990.8 L2381.8,1992.1 L2383.8,1993.2 L2385.9,1994.3 L2388.0,1995.9 L2390.0,1997.6 L2392.1,1998.9 L2394.2,2000.2 L2396.3,2001.5 L2398.3,2003.3 L2400.4,2005.4 L2402.5,2007.6 L2404.6,2009.7 L2406.6,2011.6 L2408.7,2013.3 L2410.8,2014.8 L2412.9,2016.1 L2414.9,2017.3 L2417.0,2018.6 L2419.1,2019.6 L2421.2,2020.4 L2423.2,2021.0 L2425.3,2021.3 L2427.4,2021.5 L2429.5,2021.6 L2431.5,2021.6 L2433.6,2021.2 L2435.7,2020.7 L2437.8,2020.1 L2439.8,2019.4 L2441.9,2018.8 L2444.0,2018.2 L2446.1,2017.7 L2448.1,2017.4 L2450.2,2017.1 L2452.3,2016.8 L2454.4,2016.6 L2456.4,2017.3 L2458.5,2018.2 L2460.6,2019.0 L2462.7,2019.6 L2464.7,2020.3 L2466.8,2021.0 L2468.9,2021.7 L2471.0,2022.5 L2473.0,2023.4 L2475.1,2024.3 L2477.2,2025.2 L2479.2,2026.1 L2481.3,2026.9 L2483.4,2027.7 L2485.5,2028.3 L2487.5,2028.3 L2489.6,2028.1 L2491.7,2027.7 L2493.8,2026.9 L2495.8,2025.6 L2497.9,2023.5 L2500.0,2020.7 L2502.1,2016.8 L2504.1,2012.5 L2506.2,2007.9 L2508.3,2003.1 L2510.4,1997.9 L2512.4,1992.6 L2514.5,1987.1 L2516.6,1981.7 L2518.7,1976.2 L2520.7,1970.7 L2522.8,1965.5 L2524.9,1960.9 L2527.0,1957.5 L2529.0,1954.9 L2531.1,1953.2 L2533.2,1953.9 L2535.3,1955.1 L2537.3,1956.5 L2539.4,1958.2 L2541.5,1960.3 L2543.6,1962.9 L2545.6,1965.3 L2547.7,1967.6 L2549.8,1970.1 L2551.9,1972.7 L2553.9,1975.3 L2556.0,1977.9 L2558.1,1980.1 L2560.2,1982.4 L2562.2,1984.7 L2564.3,1985.9 L2566.4,1986.2 L2568.4,1986.1 L2570.5,1985.8 L2572.6,1984.7 L2574.7,1983.4 L2576.7,1983.0 L2578.8,1983.0 L2580.9,1983.1 L2583.0,1982.9 L2585.0,1982.7 L2587.1,1982.5 L2589.2,1982.0 L2591.3,1981.2 L2593.3,1980.0 L2595.4,1978.9 L2597.5,1980.0 L2599.6,1981.8 L2601.6,1983.9 L2603.7,1987.3 L2605.8,1990.8 L2607.9,1993.9 L2609.9,1996.7 L2612.0,1999.5 L2614.1,2002.4 L2616.2,2005.2 L2618.2,2008.0 L2620.3,2010.6 L2622.4,2012.9 L2624.5,2015.0 L2626.5,2017.0 L2628.6,2017.5 L2630.7,2017.4 L2632.8,2017.2 L2634.8,2016.3 L2636.9,2015.1 L2639.0,2013.7 L2641.1,2012.1 L2643.1,2010.2 L2645.2,2008.2 L2647.3,2006.4 L2649.3,2004.6 L2651.4,2003.1 L2653.5,2002.7 L2655.6,2002.6 L2657.6,2002.5 L2659.7,2002.6 L2661.8,2002.7 L2663.9,2002.5 L2665.9,2002.3 L2668.0,2002.3 L2670.1,2002.4 L2672.2,2003.1 L2674.2,2004.1 L2676.3,2005.1 L2678.4,2006.1 L2680.5,2007.1 L2682.5,2007.8 L2684.6,2006.2 L2686.7,2003.9 L2688.8,2001.7 L2690.8,1999.3 L2692.9,1997.2 L2695.0,1995.3 L2697.1,1993.1 L2699.1,1990.5 L2701.2,1988.1 L2703.3,1985.4 L2705.4,1982.6 L2707.4,1979.7 L2709.5,1976.8 L2711.6,1973.7 L2713.7,1970.5 L2715.7,1970.9 L2717.8,1972.5 L2719.9,1974.0 L2722.0,1975.5 L2724.0,1977.0 L2726.1,1978.2 L2728.2,1979.0 L2730.3,1980.4 L2732.3,1981.6 L2734.4,1982.6 L2736.5,1983.6 L2738.5,1984.5 L2740.6,1985.5 L2742.7,1987.0 L2744.8,1988.8 L2746.8,1988.8 L2748.9,1988.5 L2751.0,1988.2 L2753.1,1987.6 L2755.1,1986.8 L2757.2,1986.5 L2759.3,1987.8 L2761.4,1989.1 L2763.4,1990.5 L2765.5,1992.0 L2767.6,1993.8 L2769.7,1995.6 L2771.7,1997.4 L2773.8,1999.0 L2775.9,2000.4 L2778.0,2001.3 L2780.0,2001.4 L2782.1,2001.2 L2784.2,2000.9 L2786.3,2000.8 L2788.3,2000.8 L2790.4,2000.0 L2792.5,1997.8 L2794.6,1993.9 L2796.6,1987.9 L2798.7,1981.5 L2800.8,1974.9 L2802.9,1968.4 L2804.9,1961.8 L2807.0,1955.2 L2809.1,1949.3 L2811.2,1944.2 L2813.2,1940.2 L2815.3,1936.9 L2817.4,1933.6 L2819.5,1929.8 L2821.5,1925.8 L2823.6,1923.8 L2825.7,1925.1 L2827.7,1930.1 L2829.8,1936.5 L2831.9,1943.1 L2834.0,1949.4 L2836.0,1955.6 L2838.1,1961.5 L2840.2,1967.1 L2842.3,1972.1 L2844.3,1976.3 L2846.4,1980.1 L2848.5,1983.6 L2850.6,1987.7 L2852.6,1992.2 L2854.7,1995.8 L2856.8,1997.7 L2858.9,1998.0 L2860.9,1997.3 L2863.0,1996.4 L2865.1,1995.6 L2867.2,1995.2 L2869.2,1995.6 L2871.3,1996.5 L2873.4,1997.5 L2875.5,1998.7 L2877.5,2000.2 L2879.6,2001.9 L2881.7,2003.3 L2883.8,2003.8 L2885.8,2003.4 L2887.9,2002.4 L2890.0,2001.0 L2892.1,1999.2 L2894.1,1997.3 L2896.2,1995.4 L2898.3,1993.2 L2900.4,1990.4 L2902.4,1987.0 L2904.5,1983.3 L2906.6,1979.5 L2908.6,1975.6 L2910.7,1971.6 L2912.8,1967.9 L2914.9,1965.1 L2916.9,1963.0 L2919.0,1962.2 L2921.1,1961.1 L2923.2,1960.7 L2925.2,1960.8 L2927.3,1961.4 L2929.4,1961.7 L2931.5,1962.0 L2933.5,1962.7 L2935.6,1964.0 L2937.7,1965.6 L2939.8,1966.8 L2941.8,1967.9 L2943.9,1968.8 L2946.0,1969.9 L2948.1,1970.9 L2950.1,1971.6 L2952.2,1973.5 L2954.3,1975.3 L2956.4,1976.1 L2958.4,1976.5 L2960.5,1977.6 L2962.6,1979.0 L2964.7,1980.1 L2966.7,1981.1 L2968.8,1982.2 L2970.9,1983.7 L2973.0,1985.5 L2975.0,1987.2 L2977.1,1988.4 L2979.2,1990.1 L2981.3,1991.2 L2983.3,1991.9 L2985.4,1991.1 L2987.5,1987.0 L2989.6,1982.4 L2991.6,1977.1 L2993.7,1971.1 L2995.8,1964.2 L2997.8,1956.5 L2999.9,1948.4 L3002.0,1939.5 L3004.1,1930.1 L3006.1,1920.6 L3008.2,1910.5 L3010.3,1897.9 L3012.4,1883.9 L3014.4,1868.6 L3016.5,1854.7 L3018.6,1848.3 L3020.7,1845.2 L3022.7,1842.5 L3024.8,1841.1 L3026.9,1841.2 L3029.0,1842.4 L3031.0,1844.5 L3033.1,1847.6 L3035.2,1851.3 L3037.3,1855.4 L3039.3,1861.0 L3041.4,1871.0 L3043.5,1884.1 L3045.6,1898.5 L3047.6,1913.7 L3049.7,1925.6 L3051.8,1934.8 L3053.9,1943.6 L3055.9,1951.9 L3058.0,1959.8 L3060.1,1967.0 L3062.2,1973.6 L3064.2,1979.9 L3066.3,1985.9 L3068.4,1989.9 L3070.5,1993.5 L3072.5,1994.9 L3074.6,1994.4 L3076.7,1993.3 L3078.8,1991.4 L3080.8,1989.3 L3082.9,1987.4 L3085.0,1985.8 L3087.0,1983.7 L3089.1,1980.7 L3091.2,1977.7 L3093.3,1974.6 L3095.3,1971.3 L3097.4,1967.4 L3099.5,1966.5 L3101.6,1965.7 L3103.6,1964.9 L3105.7,1964.5 L3107.8,1965.0 L3109.9,1965.3 L3111.9,1964.1 L3114.0,1961.8 L3116.1,1959.3 L3118.2,1957.4 L3120.2,1956.5 L3122.3,1955.6 L3124.4,1954.6 L3126.5,1954.1 L3128.5,1954.4 L3130.6,1953.5 L3132.7,1951.6 L3134.8,1949.5 L3136.8,1946.8 L3138.9,1942.0 L3141.0,1937.9 L3143.1,1936.2 L3145.1,1935.3 L3147.2,1934.5 L3149.3,1933.1 L3151.4,1930.6 L3153.4,1927.5 L3155.5,1924.4 L3157.6,1921.1 L3159.7,1917.4 L3161.7,1913.6 L3163.8,1910.5 L3165.9,1908.2 L3167.9,1906.9 L3170.0,1908.7 L3172.1,1909.7 L3174.2,1910.0 L3176.2,1909.5 L3178.3,1908.6 L3180.4,1908.6 L3182.5,1910.4 L3184.5,1913.5 L3186.6,1917.3 L3188.7,1921.1 L3190.8,1925.1 L3192.8,1928.9 L3194.9,1932.3 L3197.0,1934.6 L3199.1,1936.8 L3201.1,1937.3 L3203.2,1938.2 L3205.3,1938.9 L3207.4,1941.0 L3209.4,1945.0 L3211.5,1948.5 L3213.6,1950.7 L3215.7,1952.3 L3217.7,1953.3 L3219.8,1953.7 L3221.9,1954.1 L3224.0,1954.0 L3226.0,1952.2 L3228.1,1950.9 L3230.2,1949.9 L3232.3,1948.7 L3234.3,1946.5 L3236.4,1943.9 L3238.5,1940.9 L3240.6,1936.4 L3242.6,1931.3 L3244.7,1926.5 L3246.8,1921.2 L3248.9,1914.2 L3250.9,1905.1 L3253.0,1895.4 L3255.1,1883.8 L3257.1,1872.6 L3259.2,1861.6 L3261.3,1847.8 L3263.4,1833.5 L3265.4,1817.1 L3267.5,1795.2 L3269.6,1765.0 L3271.7,1734.3 L3273.7,1704.3 L3275.8,1673.7 L3277.9,1643.3 L3280.0,1616.0 L3282.0,1591.8 L3284.1,1562.3 L3286.2,1526.0 L3288.3,1489.8 L3290.3,1451.9 L3292.4,1414.8 L3294.5,1378.1 L3296.6,1348.0 L3298.6,1321.3 L3300.7,1315.1 L3302.8,1311.0 L3304.9,1307.0 L3306.9,1302.8 L3309.0,1298.1 L3311.1,1289.0 L3313.2,1276.6 L3315.2,1275.4 L3317.3,1295.5 L3319.4,1321.7 L3321.5,1350.8 L3323.5,1381.9 L3325.6,1414.5 L3327.7,1445.9 L3329.8,1479.5 L3331.8,1500.7 L3333.9,1520.6 L3336.0,1540.8 L3338.1,1562.2 L3340.1,1584.8 L3342.2,1606.0 L3344.3,1631.3 L3346.3,1657.6 L3348.4,1671.8 L3350.5,1679.5 L3352.6,1684.7 L3354.6,1689.9 L3356.7,1694.7 L3358.8,1697.9 L3360.9,1701.2 L3362.9,1702.7 L3365.0,1701.4 L3367.1,1698.0 L3369.2,1694.4 L3371.2,1692.6 L3373.3,1699.3 L3375.4,1704.8 L3377.5,1703.1 L3379.5,1698.7 L3381.6,1692.4 L3383.7,1691.1 L3385.8,1690.0 L3387.8,1687.8 L3389.9,1685.0 L3392.0,1682.0 L3394.1,1682.7 L3396.1,1685.5 L3398.2,1689.5 L3400.3,1693.3 L3402.4,1692.5 L3404.4,1688.0 L3406.5,1682.3 L3408.6,1677.0 L3410.7,1675.0 L3412.7,1682.1 L3414.8,1685.6 L3416.9,1687.7 L3419.0,1690.7 L3421.0,1693.1 L3423.1,1692.5 L3425.2,1687.3 L3427.2,1682.6 L3429.3,1679.9 L3431.4,1675.8 L3433.5,1673.4 L3435.5,1670.1 L3437.6,1666.1 L3439.7,1662.7 L3441.8,1659.4 L3443.8,1649.0 L3445.9,1636.5 L3448.0,1624.3 L3450.1,1607.9 L3452.1,1591.2 L3454.2,1576.6 L3456.3,1566.2 L3458.4,1556.8 L3460.4,1543.6 L3462.5,1531.8 L3464.6,1523.9 L3466.7,1516.9 L3468.7,1512.5 L3470.8,1507.9 L3472.9,1502.1 L3475.0,1497.4 L3477.0,1495.8 L3479.1,1497.0 L3481.2,1503.8 L3483.3,1514.2 L3485.3,1528.7 L3487.4,1542.0 L3489.5,1554.4 L3491.6,1570.5 L3493.6,1583.6 L3495.7,1592.8 L3497.8,1603.0 L3499.9,1612.4 L3501.9,1620.0 L3504.0,1627.6 L3506.1,1637.9 L3508.2,1645.7 L3510.2,1648.9 L3512.3,1648.7 L3514.4,1644.6 L3516.4,1634.1 L3518.5,1621.0 L3520.6,1606.1 L3522.7,1591.1 L3524.7,1577.8 L3526.8,1567.1 L3528.9,1553.3 L3531.0,1537.7 L3533.0,1524.8 L3535.1,1514.5 L3537.2,1501.1 L3539.3,1488.7 L3541.3,1479.2 L3543.4,1470.5 L3545.5,1462.9 L3547.6,1461.0 L3549.6,1464.9 L3551.7,1473.6 L3553.8,1481.5 L3555.9,1486.4 L3557.9,1489.7 L3560.0,1496.4 L3562.1,1503.6 L3564.2,1509.8 L3566.2,1513.9 L3568.3,1519.7 L3570.4,1525.0 L3572.5,1532.0 L3574.5,1538.2 L3576.6,1540.6 L3578.7,1539.9 L3580.8,1532.3 L3582.8,1517.7 L3584.9,1500.6 L3587.0,1491.3 L3589.1,1481.2 L3591.1,1468.3 L3593.2,1456.7 L3595.3,1443.8 L3597.4,1425.2 L3599.4,1405.3 L3601.5,1384.7 L3603.6,1350.2 L3605.6,1315.8 L3607.7,1286.4 L3609.8,1253.6 L3611.9,1223.3 L3613.9,1198.7 L3616.0,1172.7 L3618.1,1140.8 L3620.2,1108.3 L3622.2,1077.0 L3624.3,1036.9 L3626.4,983.6 L3628.5,928.4 L3628.5,928.4" fill="none" stroke="#4c35de" stroke-width="4.7" stroke-dasharray="15 5" stroke-linejoin="round"/>
</g>
<rect x="315" y="312" width="5" height="1738" fill="#111113"/>
<rect x="3680" y="312" width="5" height="1738" fill="#4c35de"/>
<text transform="translate(280.5,480.2) scale(0.915,1)" font-size="54" font-weight="400" fill="#111113" text-anchor="end">100K</text>
<text transform="translate(280.5,553.6) scale(0.955,1)" font-size="54" font-weight="400" fill="#111113" text-anchor="end">80K</text>
<text transform="translate(280.5,648.2) scale(0.955,1)" font-size="54" font-weight="400" fill="#111113" text-anchor="end">60K</text>
<text transform="translate(280.5,781.4) scale(0.955,1)" font-size="54" font-weight="400" fill="#111113" text-anchor="end">40K</text>
<text transform="translate(280.5,1009.3) scale(0.955,1)" font-size="54" font-weight="400" fill="#111113" text-anchor="end">20K</text>
<text transform="translate(280.5,1237.1) scale(0.915,1)" font-size="54" font-weight="400" fill="#111113" text-anchor="end">10K</text>
<text transform="translate(280.5,1310.5) scale(0.955,1)" font-size="54" font-weight="400" fill="#111113" text-anchor="end">8K</text>
<text transform="translate(280.5,1405.1) scale(0.955,1)" font-size="54" font-weight="400" fill="#111113" text-anchor="end">6K</text>
<text transform="translate(280.5,1538.3) scale(0.955,1)" font-size="54" font-weight="400" fill="#111113" text-anchor="end">4K</text>
<text transform="translate(280.5,1766.2) scale(0.955,1)" font-size="54" font-weight="400" fill="#111113" text-anchor="end">2K</text>
<text transform="translate(280.5,1994.0) scale(0.915,1)" font-size="54" font-weight="400" fill="#111113" text-anchor="end">1K</text>
<text transform="translate(280.5,2067.4) scale(0.955,1)" font-size="54" font-weight="400" fill="#111113" text-anchor="end">800</text>
<text transform="translate(3720.5,470.7) scale(0.975,1)" font-size="54" font-weight="400" fill="#111113" text-anchor="start">400K</text>
<text transform="translate(3720.5,870.7) scale(0.975,1)" font-size="54" font-weight="400" fill="#111113" text-anchor="start">300K</text>
<text transform="translate(3720.5,1270.7) scale(0.975,1)" font-size="54" font-weight="400" fill="#111113" text-anchor="start">200K</text>
<text transform="translate(3720.5,1668.7) scale(0.915,1)" font-size="54" font-weight="400" fill="#111113" text-anchor="start">100K</text>
<text transform="translate(3720.5,2067.7) scale(0.975,1)" font-size="54" font-weight="400" fill="#111113" text-anchor="start">0</text>
<text transform="translate(655.5,2126.5) scale(0.93,1)" font-size="44.4" font-weight="400" fill="#72727e" text-anchor="middle">2018</text>
<text transform="translate(1033.5,2126.5) scale(0.93,1)" font-size="44.4" font-weight="400" fill="#72727e" text-anchor="middle">2019</text>
<text transform="translate(1412.5,2126.5) scale(0.93,1)" font-size="44.4" font-weight="400" fill="#72727e" text-anchor="middle">2020</text>
<text transform="translate(1792.5,2126.5) scale(0.93,1)" font-size="44.4" font-weight="400" fill="#72727e" text-anchor="middle">2021</text>
<text transform="translate(2170.5,2126.5) scale(0.93,1)" font-size="44.4" font-weight="400" fill="#72727e" text-anchor="middle">2022</text>
<text transform="translate(2548.5,2126.5) scale(0.93,1)" font-size="44.4" font-weight="400" fill="#72727e" text-anchor="middle">2023</text>
<text transform="translate(2927.5,2126.5) scale(0.93,1)" font-size="44.4" font-weight="400" fill="#72727e" text-anchor="middle">2024</text>
<text transform="translate(3308.5,2126.5) scale(0.93,1)" font-size="44.4" font-weight="400" fill="#72727e" text-anchor="middle">2025</text>
<text transform="translate(134.2,1181.3) rotate(-90) scale(0.947,1)" font-size="52.5" font-weight="400" fill="#111113" text-anchor="middle">Price ($)</text>
<text transform="translate(3865.5,1180.4) rotate(90) scale(0.947,1)" font-size="52.5" font-weight="400" fill="#111113" text-anchor="middle">Demand (# of Bitcoin, 30-day change)</text>
<text transform="translate(2001.0,142.3) scale(0.958,1)" font-size="81" font-weight="700" fill="#111113" text-anchor="middle" id="title">Bitcoin: Demand from Accumulator Addresses</text>
<rect x="950" y="227.2" width="60" height="5.1" fill="#111113"/>
<text transform="translate(1022.0,242.6) scale(0.955,1)" font-size="52" font-weight="400" fill="#111113" text-anchor="start" id="lg1">Price</text>
<circle cx="1220.8" cy="219.9" r="25.2" fill="#4c35de"/>
<text transform="translate(1264.5,242.6) scale(0.948,1)" font-size="52" font-weight="400" fill="#111113" text-anchor="start" id="lg2">Accumulator Addresses Demand</text>
<path d="M2038,229.8 H2093" stroke="#4c35de" stroke-width="5.2" stroke-dasharray="15 5" fill="none"/>
<text transform="translate(2112.0,242.6) scale(0.956,1)" font-size="52" font-weight="400" fill="#111113" text-anchor="start" id="lg3">Accumulator Addresses Demand-SMA(30)</text>
<text transform="translate(3904.2,2193.7) scale(0.897,1)" font-size="37" font-weight="400" fill="#75757f" text-anchor="end" id="cr">© CryptoQuant. All rights reserved</text>
</svg></body></html>
